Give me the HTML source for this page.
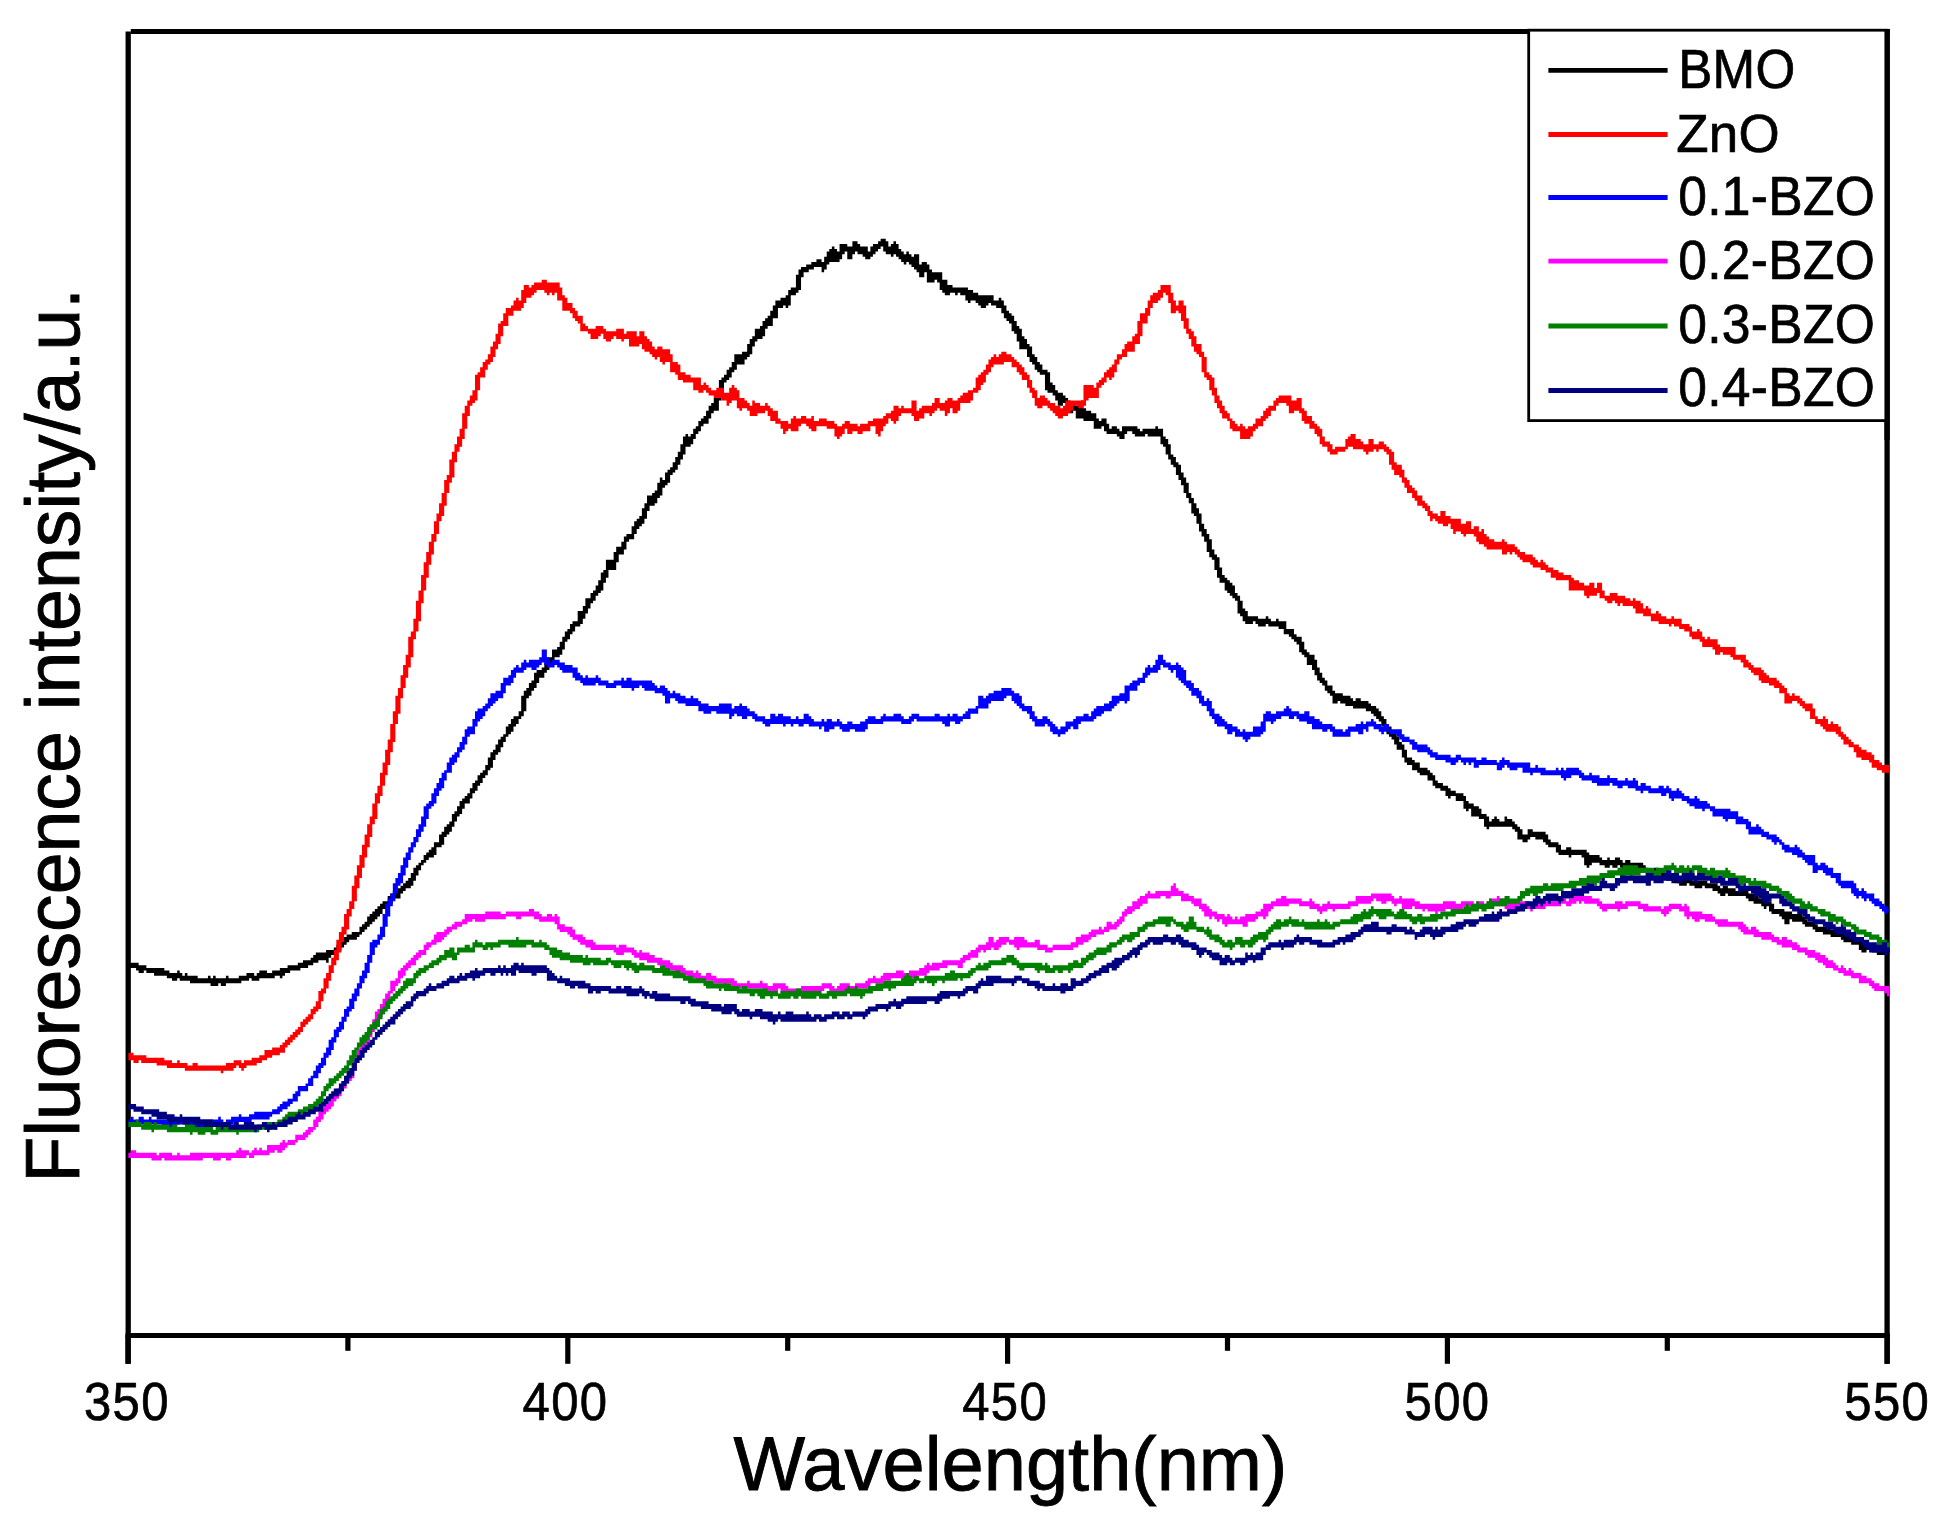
<!DOCTYPE html>
<html><head><meta charset="utf-8"><title>Fluorescence spectra</title>
<style>
html,body{margin:0;padding:0;background:#fff;}
body{width:1941px;height:1527px;overflow:hidden;}
svg{display:block;}
text{font-family:"Liberation Sans",sans-serif;fill:#000;}
</style></head>
<body>
<svg width="1941" height="1527" viewBox="0 0 1941 1527">
<rect x="0" y="0" width="1941" height="1527" fill="#fff"/>
<g id="frame">
<line x1="128.2" y1="31.4" x2="128.2" y2="1363.8" stroke="#000" stroke-width="5.3"/>
<line x1="130.8" y1="31.5" x2="1889.8" y2="31.5" stroke="#000" stroke-width="4.8"/>
<line x1="1887.1" y1="28.9" x2="1887.1" y2="1363.8" stroke="#000" stroke-width="5.3"/>
<line x1="125.6" y1="1335.4" x2="1889.8" y2="1335.4" stroke="#000" stroke-width="5"/>
<line x1="128.0" y1="1335" x2="128.0" y2="1363.8" stroke="#000" stroke-width="5.2"/><line x1="347.9" y1="1335" x2="347.9" y2="1350.8" stroke="#000" stroke-width="5.2"/><line x1="567.8" y1="1335" x2="567.8" y2="1363.8" stroke="#000" stroke-width="5.2"/><line x1="787.7" y1="1335" x2="787.7" y2="1350.8" stroke="#000" stroke-width="5.2"/><line x1="1007.6" y1="1335" x2="1007.6" y2="1363.8" stroke="#000" stroke-width="5.2"/><line x1="1227.5" y1="1335" x2="1227.5" y2="1350.8" stroke="#000" stroke-width="5.2"/><line x1="1447.4" y1="1335" x2="1447.4" y2="1363.8" stroke="#000" stroke-width="5.2"/><line x1="1667.3" y1="1335" x2="1667.3" y2="1350.8" stroke="#000" stroke-width="5.2"/><line x1="1887.2" y1="1335" x2="1887.2" y2="1363.8" stroke="#000" stroke-width="5.2"/>
</g>
<g id="curves">
<g transform="scale(2.56746)"><path d="M50,375h1v2h-1zM51,375h1v2h-1zM52,375h1v2h-1zM53,375h1v3h-1zM54,376h1v3h-1zM55,376h1v3h-1zM56,376h1v2h-1zM57,377h1v2h-1zM58,377h1v2h-1zM59,377h1v2h-1zM60,377h1v3h-1zM61,377h1v3h-1zM62,377h1v3h-1zM63,377h1v3h-1zM64,378h1v2h-1zM65,378h1v3h-1zM66,379h1v2h-1zM67,379h1v3h-1zM68,379h1v3h-1zM69,378h1v3h-1zM70,379h1v3h-1zM71,380h1v2h-1zM72,379h1v3h-1zM73,380h1v2h-1zM74,380h1v3h-1zM75,380h1v3h-1zM76,380h1v3h-1zM77,381h1v2h-1zM78,381h1v2h-1zM79,381h1v2h-1zM80,381h1v2h-1zM81,380h1v3h-1zM82,381h1v3h-1zM83,380h1v4h-1zM84,381h1v3h-1zM85,381h1v2h-1zM86,381h1v3h-1zM87,381h1v3h-1zM88,380h1v3h-1zM89,381h1v2h-1zM90,381h1v2h-1zM91,381h1v2h-1zM92,381h1v2h-1zM93,380h1v3h-1zM94,380h1v2h-1zM95,380h1v2h-1zM96,379h1v3h-1zM97,379h1v2h-1zM98,379h1v3h-1zM99,380h1v2h-1zM100,379h1v3h-1zM101,378h1v3h-1zM102,378h1v3h-1zM103,378h1v3h-1zM104,379h1v2h-1zM105,379h1v2h-1zM106,378h1v3h-1zM107,378h1v2h-1zM108,378h1v2h-1zM109,377h1v4h-1zM110,377h1v3h-1zM111,377h1v2h-1zM112,376h1v3h-1zM113,376h1v2h-1zM114,376h1v2h-1zM115,376h1v2h-1zM116,375h1v3h-1zM117,375h1v2h-1zM118,374h1v3h-1zM119,374h1v3h-1zM120,374h1v2h-1zM121,373h1v3h-1zM122,372h1v3h-1zM123,371h1v4h-1zM124,371h1v3h-1zM125,371h1v3h-1zM126,371h1v3h-1zM127,370h1v5h-1zM128,370h1v3h-1zM129,370h1v2h-1zM130,369h1v3h-1zM131,368h1v3h-1zM132,367h1v3h-1zM133,365h1v4h-1zM134,365h1v3h-1zM135,364h1v3h-1zM136,364h1v2h-1zM137,363h1v3h-1zM138,363h1v3h-1zM139,363h1v2h-1zM140,361h1v3h-1zM141,360h1v3h-1zM142,359h1v3h-1zM143,357h1v4h-1zM144,356h1v4h-1zM145,355h1v4h-1zM146,354h1v4h-1zM147,353h1v4h-1zM148,352h1v4h-1zM149,351h1v3h-1zM150,351h1v3h-1zM151,349h1v4h-1zM152,348h1v4h-1zM153,347h1v3h-1zM154,347h1v3h-1zM155,346h1v4h-1zM156,345h1v3h-1zM157,344h1v3h-1zM158,343h1v3h-1zM159,342h1v4h-1zM160,340h1v5h-1zM161,338h1v5h-1zM162,337h1v4h-1zM163,336h1v3h-1zM164,335h1v2h-1zM165,333h1v3h-1zM166,332h1v3h-1zM167,331h1v3h-1zM168,330h1v4h-1zM169,328h1v5h-1zM170,328h1v2h-1zM171,325h1v5h-1zM172,324h1v5h-1zM173,322h1v4h-1zM174,321h1v4h-1zM175,320h1v4h-1zM176,317h1v5h-1zM177,316h1v4h-1zM178,314h1v4h-1zM179,312h1v5h-1zM180,311h1v4h-1zM181,310h1v3h-1zM182,309h1v4h-1zM183,307h1v4h-1zM184,305h1v4h-1zM185,304h1v4h-1zM186,302h1v4h-1zM187,301h1v4h-1zM188,300h1v3h-1zM189,298h1v4h-1zM190,295h1v5h-1zM191,293h1v6h-1zM192,292h1v4h-1zM193,290h1v4h-1zM194,288h1v5h-1zM195,287h1v4h-1zM196,286h1v3h-1zM197,283h1v4h-1zM198,282h1v4h-1zM199,280h1v5h-1zM200,279h1v4h-1zM201,279h1v3h-1zM202,277h1v3h-1zM203,271h1v8h-1zM204,269h1v8h-1zM205,268h1v4h-1zM206,266h1v5h-1zM207,265h1v4h-1zM208,262h1v6h-1zM209,261h1v5h-1zM210,261h1v3h-1zM211,260h1v4h-1zM212,258h1v4h-1zM213,256h1v5h-1zM214,256h1v3h-1zM215,253h1v5h-1zM216,253h1v3h-1zM217,252h1v4h-1zM218,250h1v5h-1zM219,248h1v5h-1zM220,246h1v4h-1zM221,245h1v4h-1zM222,243h1v4h-1zM223,242h1v4h-1zM224,242h1v2h-1zM225,238h1v6h-1zM226,238h1v5h-1zM227,236h1v5h-1zM228,233h1v6h-1zM229,233h1v4h-1zM230,231h1v4h-1zM231,230h1v4h-1zM232,228h1v4h-1zM233,226h1v5h-1zM234,223h1v7h-1zM235,222h1v5h-1zM236,218h1v7h-1zM237,218h1v4h-1zM238,218h1v4h-1zM239,215h1v7h-1zM240,213h1v6h-1zM241,213h1v3h-1zM242,211h1v5h-1zM243,209h1v5h-1zM244,208h1v3h-1zM245,208h1v2h-1zM246,205h1v5h-1zM247,203h1v5h-1zM248,202h1v4h-1zM249,201h1v4h-1zM250,198h1v6h-1zM251,196h1v6h-1zM252,193h1v6h-1zM253,193h1v4h-1zM254,192h1v5h-1zM255,191h1v5h-1zM256,188h1v6h-1zM257,186h1v7h-1zM258,187h1v3h-1zM259,184h1v5h-1zM260,183h1v5h-1zM261,182h1v3h-1zM262,180h1v4h-1zM263,178h1v5h-1zM264,176h1v5h-1zM265,173h1v6h-1zM266,170h1v7h-1zM267,169h1v5h-1zM268,170h1v4h-1zM269,169h1v4h-1zM270,167h1v4h-1zM271,166h1v3h-1zM272,164h1v4h-1zM273,163h1v3h-1zM274,162h1v3h-1zM275,160h1v5h-1zM276,158h1v5h-1zM277,157h1v4h-1zM278,155h1v5h-1zM279,152h1v8h-1zM280,148h1v8h-1zM281,147h1v5h-1zM282,146h1v3h-1zM283,144h1v4h-1zM284,143h1v4h-1zM285,141h1v4h-1zM286,138h1v6h-1zM287,138h1v4h-1zM288,138h1v4h-1zM289,137h1v5h-1zM290,137h1v3h-1zM291,134h1v5h-1zM292,132h1v6h-1zM293,131h1v4h-1zM294,128h1v5h-1zM295,128h1v4h-1zM296,127h1v5h-1zM297,125h1v6h-1zM298,124h1v4h-1zM299,123h1v4h-1zM300,121h1v6h-1zM301,119h1v5h-1zM302,117h1v7h-1zM303,117h1v3h-1zM304,116h1v4h-1zM305,116h1v3h-1zM306,115h1v5h-1zM307,113h1v6h-1zM308,112h1v3h-1zM309,112h1v3h-1zM310,107h1v7h-1zM311,105h1v8h-1zM312,104h1v4h-1zM313,104h1v2h-1zM314,103h1v3h-1zM315,103h1v2h-1zM316,102h1v3h-1zM317,102h1v2h-1zM318,101h1v3h-1zM319,101h1v3h-1zM320,102h1v4h-1zM321,100h1v5h-1zM322,98h1v5h-1zM323,97h1v5h-1zM324,96h1v6h-1zM325,97h1v5h-1zM326,98h1v4h-1zM327,95h1v6h-1zM328,95h1v4h-1zM329,95h1v3h-1zM330,96h1v5h-1zM331,96h1v5h-1zM332,94h1v5h-1zM333,94h1v4h-1zM334,95h1v4h-1zM335,96h1v3h-1zM336,96h1v4h-1zM337,96h1v5h-1zM338,98h1v3h-1zM339,96h1v4h-1zM340,95h1v4h-1zM341,95h1v3h-1zM342,94h1v3h-1zM343,93h1v3h-1zM344,93h1v5h-1zM345,94h1v5h-1zM346,96h1v3h-1zM347,95h1v5h-1zM348,94h1v5h-1zM349,95h1v5h-1zM350,97h1v4h-1zM351,98h1v4h-1zM352,99h1v4h-1zM353,98h1v4h-1zM354,99h1v4h-1zM355,100h1v4h-1zM356,99h1v6h-1zM357,99h1v7h-1zM358,103h1v5h-1zM359,102h1v6h-1zM360,102h1v4h-1zM361,103h1v7h-1zM362,105h1v5h-1zM363,106h1v4h-1zM364,106h1v3h-1zM365,106h1v4h-1zM366,106h1v7h-1zM367,109h1v5h-1zM368,109h1v6h-1zM369,111h1v4h-1zM370,111h1v3h-1zM371,112h1v2h-1zM372,112h1v3h-1zM373,112h1v2h-1zM374,112h1v3h-1zM375,112h1v3h-1zM376,112h1v5h-1zM377,113h1v5h-1zM378,113h1v4h-1zM379,114h1v3h-1zM380,114h1v4h-1zM381,115h1v4h-1zM382,115h1v5h-1zM383,115h1v5h-1zM384,115h1v4h-1zM385,115h1v3h-1zM386,115h1v4h-1zM387,117h1v2h-1zM388,117h1v3h-1zM389,116h1v4h-1zM390,117h1v5h-1zM391,119h1v5h-1zM392,121h1v4h-1zM393,122h1v4h-1zM394,123h1v6h-1zM395,125h1v5h-1zM396,127h1v6h-1zM397,128h1v8h-1zM398,131h1v5h-1zM399,132h1v4h-1zM400,134h1v5h-1zM401,135h1v6h-1zM402,138h1v4h-1zM403,139h1v5h-1zM404,141h1v4h-1zM405,142h1v4h-1zM406,144h1v2h-1zM407,144h1v8h-1zM408,145h1v8h-1zM409,149h1v4h-1zM410,150h1v4h-1zM411,152h1v4h-1zM412,153h1v5h-1zM413,153h1v5h-1zM414,154h1v3h-1zM415,155h1v4h-1zM416,156h1v5h-1zM417,158h1v3h-1zM418,157h1v3h-1zM419,158h1v5h-1zM420,157h1v6h-1zM421,156h1v7h-1zM422,159h1v5h-1zM423,160h1v4h-1zM424,160h1v4h-1zM425,161h1v3h-1zM426,161h1v6h-1zM427,163h1v4h-1zM428,164h1v3h-1zM429,163h1v3h-1zM430,163h1v5h-1zM431,165h1v4h-1zM432,167h1v2h-1zM433,166h1v3h-1zM434,166h1v3h-1zM435,167h1v3h-1zM436,168h1v3h-1zM437,166h1v5h-1zM438,166h1v3h-1zM439,166h1v2h-1zM440,166h1v2h-1zM441,166h1v3h-1zM442,166h1v4h-1zM443,167h1v3h-1zM444,168h1v2h-1zM445,167h1v3h-1zM446,167h1v2h-1zM447,167h1v3h-1zM448,167h1v3h-1zM449,167h1v3h-1zM450,166h1v4h-1zM451,167h1v3h-1zM452,167h1v6h-1zM453,170h1v4h-1zM454,171h1v6h-1zM455,173h1v6h-1zM456,177h1v4h-1zM457,178h1v4h-1zM458,180h1v5h-1zM459,181h1v6h-1zM460,184h1v5h-1zM461,186h1v6h-1zM462,188h1v6h-1zM463,192h1v4h-1zM464,194h1v6h-1zM465,196h1v5h-1zM466,198h1v6h-1zM467,200h1v7h-1zM468,204h1v5h-1zM469,206h1v5h-1zM470,208h1v7h-1zM471,210h1v7h-1zM472,214h1v4h-1zM473,216h1v6h-1zM474,217h1v8h-1zM475,221h1v6h-1zM476,224h1v3h-1zM477,225h1v5h-1zM478,226h1v5h-1zM479,227h1v5h-1zM480,228h1v5h-1zM481,231h1v3h-1zM482,232h1v7h-1zM483,234h1v6h-1zM484,237h1v5h-1zM485,238h1v5h-1zM486,240h1v3h-1zM487,240h1v3h-1zM488,240h1v2h-1zM489,240h1v3h-1zM490,241h1v3h-1zM491,241h1v3h-1zM492,241h1v3h-1zM493,240h1v3h-1zM494,241h1v3h-1zM495,242h1v2h-1zM496,242h1v2h-1zM497,241h1v3h-1zM498,242h1v3h-1zM499,242h1v3h-1zM500,242h1v5h-1zM501,245h1v2h-1zM502,245h1v3h-1zM503,245h1v4h-1zM504,247h1v3h-1zM505,248h1v3h-1zM506,248h1v6h-1zM507,250h1v5h-1zM508,253h1v3h-1zM509,254h1v5h-1zM510,255h1v4h-1zM511,255h1v6h-1zM512,257h1v6h-1zM513,260h1v5h-1zM514,262h1v4h-1zM515,264h1v3h-1zM516,265h1v4h-1zM517,267h1v3h-1zM518,267h1v4h-1zM519,269h1v5h-1zM520,270h1v4h-1zM521,270h1v3h-1zM522,270h1v4h-1zM523,271h1v3h-1zM524,271h1v4h-1zM525,271h1v4h-1zM526,272h1v3h-1zM527,273h1v3h-1zM528,272h1v4h-1zM529,272h1v4h-1zM530,273h1v3h-1zM531,273h1v3h-1zM532,273h1v4h-1zM533,274h1v3h-1zM534,275h1v3h-1zM535,275h1v4h-1zM536,276h1v4h-1zM537,277h1v4h-1zM538,279h1v4h-1zM539,280h1v4h-1zM540,282h1v4h-1zM541,283h1v4h-1zM542,285h1v3h-1zM543,285h1v5h-1zM544,287h1v5h-1zM545,289h1v3h-1zM546,290h1v5h-1zM547,292h1v5h-1zM548,295h1v3h-1zM549,295h1v3h-1zM550,296h1v4h-1zM551,297h1v3h-1zM552,297h1v4h-1zM553,299h1v3h-1zM554,299h1v3h-1zM555,299h1v3h-1zM556,300h1v4h-1zM557,301h1v3h-1zM558,302h1v4h-1zM559,304h1v3h-1zM560,305h1v2h-1zM561,305h1v3h-1zM562,306h1v2h-1zM563,306h1v4h-1zM564,307h1v4h-1zM565,308h1v2h-1zM566,308h1v2h-1zM567,309h1v3h-1zM568,309h1v3h-1zM569,309h1v3h-1zM570,310h1v5h-1zM571,312h1v4h-1zM572,313h1v2h-1zM573,313h1v5h-1zM574,314h1v4h-1zM575,314h1v4h-1zM576,315h1v4h-1zM577,317h1v2h-1zM578,317h1v5h-1zM579,318h1v5h-1zM580,320h1v2h-1zM581,319h1v3h-1zM582,318h1v4h-1zM583,319h1v3h-1zM584,320h1v2h-1zM585,320h1v2h-1zM586,318h1v4h-1zM587,319h1v3h-1zM588,319h1v3h-1zM589,320h1v3h-1zM590,321h1v3h-1zM591,322h1v5h-1zM592,323h1v4h-1zM593,325h1v3h-1zM594,325h1v3h-1zM595,323h1v4h-1zM596,323h1v3h-1zM597,324h1v2h-1zM598,324h1v3h-1zM599,324h1v3h-1zM600,324h1v3h-1zM601,324h1v4h-1zM602,325h1v4h-1zM603,327h1v3h-1zM604,328h1v2h-1zM605,328h1v2h-1zM606,328h1v4h-1zM607,329h1v4h-1zM608,331h1v2h-1zM609,331h1v2h-1zM610,330h1v3h-1zM611,330h1v4h-1zM612,331h1v2h-1zM613,331h1v2h-1zM614,331h1v2h-1zM615,331h1v2h-1zM616,331h1v3h-1zM617,331h1v6h-1zM618,332h1v6h-1zM619,333h1v4h-1zM620,333h1v3h-1zM621,333h1v3h-1zM622,333h1v3h-1zM623,334h1v3h-1zM624,335h1v2h-1zM625,335h1v3h-1zM626,334h1v4h-1zM627,335h1v2h-1zM628,335h1v3h-1zM629,334h1v4h-1zM630,334h1v3h-1zM631,335h1v3h-1zM632,336h1v3h-1zM633,335h1v4h-1zM634,335h1v4h-1zM635,336h1v3h-1zM636,336h1v3h-1zM637,336h1v3h-1zM638,336h1v3h-1zM639,336h1v3h-1zM640,337h1v2h-1zM641,338h1v2h-1zM642,339h1v3h-1zM643,339h1v3h-1zM644,338h1v3h-1zM645,338h1v3h-1zM646,339h1v2h-1zM647,339h1v3h-1zM648,339h1v3h-1zM649,339h1v4h-1zM650,340h1v3h-1zM651,341h1v2h-1zM652,341h1v3h-1zM653,342h1v2h-1zM654,342h1v3h-1zM655,342h1v3h-1zM656,342h1v3h-1zM657,342h1v2h-1zM658,342h1v3h-1zM659,343h1v2h-1zM660,342h1v4h-1zM661,343h1v3h-1zM662,343h1v3h-1zM663,343h1v2h-1zM664,343h1v3h-1zM665,344h1v2h-1zM666,344h1v2h-1zM667,344h1v3h-1zM668,344h1v3h-1zM669,345h1v3h-1zM670,346h1v3h-1zM671,345h1v4h-1zM672,345h1v3h-1zM673,346h1v3h-1zM674,346h1v3h-1zM675,346h1v3h-1zM676,347h1v2h-1zM677,347h1v2h-1zM678,347h1v2h-1zM679,347h1v2h-1zM680,347h1v3h-1zM681,348h1v3h-1zM682,348h1v3h-1zM683,348h1v4h-1zM684,349h1v3h-1zM685,350h1v2h-1zM686,350h1v3h-1zM687,351h1v3h-1zM688,351h1v2h-1zM689,351h1v4h-1zM690,352h1v4h-1zM691,354h1v2h-1zM692,354h1v2h-1zM693,354h1v3h-1zM694,354h1v4h-1zM695,355h1v5h-1zM696,355h1v5h-1zM697,355h1v3h-1zM698,356h1v3h-1zM699,356h1v3h-1zM700,356h1v3h-1zM701,356h1v3h-1zM702,357h1v3h-1zM703,358h1v3h-1zM704,359h1v2h-1zM705,359h1v2h-1zM706,359h1v3h-1zM707,360h1v3h-1zM708,361h1v2h-1zM709,361h1v2h-1zM710,361h1v3h-1zM711,361h1v3h-1zM712,361h1v3h-1zM713,362h1v3h-1zM714,362h1v3h-1zM715,363h1v2h-1zM716,363h1v2h-1zM717,363h1v3h-1zM718,363h1v4h-1zM719,364h1v3h-1zM720,364h1v3h-1zM721,365h1v3h-1zM722,365h1v3h-1zM723,366h1v2h-1zM724,366h1v4h-1zM725,367h1v4h-1zM726,368h1v3h-1zM727,368h1v2h-1zM728,368h1v2h-1zM729,368h1v3h-1zM730,368h1v3h-1zM731,368h1v4h-1zM732,369h1v3h-1zM733,370h1v2h-1zM734,369h1v3h-1zM735,370h1v1h-1z" fill="#000000"/>
<path d="M50,410h1v3h-1zM51,410h1v3h-1zM52,411h1v3h-1zM53,411h1v3h-1zM54,411h1v2h-1zM55,411h1v3h-1zM56,411h1v3h-1zM57,412h1v2h-1zM58,412h1v2h-1zM59,412h1v2h-1zM60,412h1v2h-1zM61,412h1v3h-1zM62,412h1v3h-1zM63,412h1v3h-1zM64,413h1v2h-1zM65,413h1v3h-1zM66,413h1v3h-1zM67,414h1v2h-1zM68,414h1v2h-1zM69,413h1v3h-1zM70,414h1v2h-1zM71,414h1v2h-1zM72,414h1v3h-1zM73,415h1v2h-1zM74,415h1v2h-1zM75,414h1v3h-1zM76,414h1v3h-1zM77,415h1v2h-1zM78,415h1v2h-1zM79,415h1v2h-1zM80,415h1v2h-1zM81,415h1v2h-1zM82,415h1v2h-1zM83,415h1v2h-1zM84,415h1v2h-1zM85,415h1v2h-1zM86,415h1v3h-1zM87,415h1v2h-1zM88,414h1v3h-1zM89,414h1v3h-1zM90,414h1v3h-1zM91,413h1v3h-1zM92,413h1v2h-1zM93,413h1v3h-1zM94,414h1v3h-1zM95,413h1v3h-1zM96,413h1v2h-1zM97,413h1v2h-1zM98,412h1v3h-1zM99,412h1v3h-1zM100,412h1v2h-1zM101,411h1v3h-1zM102,411h1v2h-1zM103,409h1v4h-1zM104,409h1v3h-1zM105,409h1v3h-1zM106,408h1v3h-1zM107,408h1v3h-1zM108,408h1v3h-1zM109,407h1v3h-1zM110,406h1v4h-1zM111,405h1v3h-1zM112,404h1v3h-1zM113,403h1v3h-1zM114,402h1v3h-1zM115,401h1v3h-1zM116,400h1v3h-1zM117,398h1v4h-1zM118,397h1v3h-1zM119,396h1v3h-1zM120,395h1v3h-1zM121,393h1v4h-1zM122,392h1v3h-1zM123,390h1v4h-1zM124,386h1v7h-1zM125,385h1v5h-1zM126,381h1v6h-1zM127,379h1v6h-1zM128,376h1v6h-1zM129,373h1v6h-1zM130,370h1v6h-1zM131,366h1v8h-1zM132,363h1v8h-1zM133,361h1v6h-1zM134,356h1v8h-1zM135,354h1v8h-1zM136,351h1v6h-1zM137,345h1v9h-1zM138,341h1v10h-1zM139,337h1v9h-1zM140,333h1v9h-1zM141,329h1v9h-1zM142,325h1v9h-1zM143,321h1v9h-1zM144,318h1v8h-1zM145,313h1v8h-1zM146,309h1v10h-1zM147,306h1v7h-1zM148,301h1v9h-1zM149,297h1v9h-1zM150,292h1v10h-1zM151,288h1v10h-1zM152,282h1v11h-1zM153,277h1v12h-1zM154,271h1v11h-1zM155,268h1v10h-1zM156,263h1v9h-1zM157,259h1v9h-1zM158,255h1v9h-1zM159,248h1v12h-1zM160,246h1v10h-1zM161,241h1v8h-1zM162,234h1v12h-1zM163,230h1v12h-1zM164,224h1v11h-1zM165,219h1v11h-1zM166,215h1v10h-1zM167,211h1v9h-1zM168,208h1v8h-1zM169,203h1v8h-1zM170,200h1v8h-1zM171,196h1v7h-1zM172,192h1v9h-1zM173,187h1v10h-1zM174,185h1v7h-1zM175,179h1v9h-1zM176,176h1v10h-1zM177,173h1v7h-1zM178,170h1v6h-1zM179,167h1v7h-1zM180,161h1v10h-1zM181,158h1v9h-1zM182,156h1v6h-1zM183,154h1v4h-1zM184,152h1v5h-1zM185,146h1v10h-1zM186,145h1v7h-1zM187,143h1v4h-1zM188,141h1v6h-1zM189,140h1v4h-1zM190,138h1v4h-1zM191,135h1v6h-1zM192,133h1v6h-1zM193,130h1v6h-1zM194,126h1v8h-1zM195,125h1v6h-1zM196,122h1v5h-1zM197,120h1v7h-1zM198,120h1v3h-1zM199,119h1v4h-1zM200,117h1v4h-1zM201,116h1v5h-1zM202,117h1v4h-1zM203,113h1v7h-1zM204,111h1v7h-1zM205,111h1v5h-1zM206,112h1v4h-1zM207,111h1v4h-1zM208,110h1v4h-1zM209,110h1v3h-1zM210,110h1v3h-1zM211,109h1v4h-1zM212,109h1v5h-1zM213,110h1v5h-1zM214,110h1v4h-1zM215,110h1v5h-1zM216,110h1v4h-1zM217,110h1v7h-1zM218,112h1v5h-1zM219,115h1v6h-1zM220,116h1v5h-1zM221,118h1v3h-1zM222,118h1v4h-1zM223,120h1v4h-1zM224,121h1v4h-1zM225,123h1v3h-1zM226,123h1v6h-1zM227,126h1v3h-1zM228,127h1v2h-1zM229,128h1v2h-1zM230,128h1v4h-1zM231,128h1v4h-1zM232,127h1v5h-1zM233,127h1v4h-1zM234,127h1v3h-1zM235,128h1v4h-1zM236,129h1v4h-1zM237,129h1v4h-1zM238,129h1v3h-1zM239,129h1v2h-1zM240,128h1v4h-1zM241,128h1v4h-1zM242,128h1v5h-1zM243,130h1v2h-1zM244,129h1v3h-1zM245,129h1v6h-1zM246,129h1v6h-1zM247,129h1v6h-1zM248,131h1v4h-1zM249,129h1v5h-1zM250,129h1v7h-1zM251,131h1v6h-1zM252,132h1v5h-1zM253,133h1v5h-1zM254,135h1v4h-1zM255,136h1v4h-1zM256,135h1v4h-1zM257,135h1v6h-1zM258,136h1v6h-1zM259,136h1v5h-1zM260,136h1v5h-1zM261,138h1v7h-1zM262,141h1v4h-1zM263,141h1v5h-1zM264,142h1v6h-1zM265,145h1v3h-1zM266,145h1v4h-1zM267,146h1v3h-1zM268,146h1v3h-1zM269,147h1v2h-1zM270,147h1v5h-1zM271,147h1v5h-1zM272,147h1v6h-1zM273,150h1v3h-1zM274,149h1v3h-1zM275,150h1v3h-1zM276,151h1v3h-1zM277,152h1v2h-1zM278,152h1v3h-1zM279,151h1v4h-1zM280,151h1v4h-1zM281,151h1v5h-1zM282,153h1v3h-1zM283,153h1v5h-1zM284,151h1v6h-1zM285,150h1v6h-1zM286,151h1v5h-1zM287,152h1v7h-1zM288,155h1v5h-1zM289,155h1v4h-1zM290,156h1v3h-1zM291,157h1v3h-1zM292,158h1v4h-1zM293,156h1v6h-1zM294,157h1v5h-1zM295,157h1v4h-1zM296,158h1v3h-1zM297,158h1v3h-1zM298,157h1v3h-1zM299,158h1v4h-1zM300,159h1v5h-1zM301,160h1v4h-1zM302,160h1v5h-1zM303,163h1v2h-1zM304,164h1v3h-1zM305,164h1v5h-1zM306,164h1v4h-1zM307,165h1v2h-1zM308,163h1v5h-1zM309,162h1v6h-1zM310,163h1v5h-1zM311,163h1v3h-1zM312,162h1v3h-1zM313,162h1v3h-1zM314,163h1v3h-1zM315,163h1v4h-1zM316,162h1v6h-1zM317,164h1v4h-1zM318,164h1v2h-1zM319,163h1v3h-1zM320,163h1v3h-1zM321,163h1v3h-1zM322,164h1v3h-1zM323,164h1v3h-1zM324,164h1v3h-1zM325,165h1v5h-1zM326,166h1v5h-1zM327,166h1v4h-1zM328,165h1v4h-1zM329,164h1v3h-1zM330,164h1v5h-1zM331,165h1v4h-1zM332,165h1v3h-1zM333,165h1v3h-1zM334,166h1v3h-1zM335,165h1v4h-1zM336,165h1v3h-1zM337,165h1v3h-1zM338,164h1v4h-1zM339,164h1v2h-1zM340,163h1v3h-1zM341,163h1v6h-1zM342,163h1v7h-1zM343,163h1v5h-1zM344,162h1v4h-1zM345,161h1v4h-1zM346,161h1v2h-1zM347,160h1v4h-1zM348,158h1v7h-1zM349,158h1v6h-1zM350,159h1v3h-1zM351,158h1v3h-1zM352,159h1v2h-1zM353,159h1v2h-1zM354,159h1v2h-1zM355,156h1v6h-1zM356,156h1v8h-1zM357,160h1v4h-1zM358,159h1v4h-1zM359,158h1v5h-1zM360,158h1v3h-1zM361,158h1v3h-1zM362,158h1v4h-1zM363,157h1v4h-1zM364,155h1v5h-1zM365,155h1v4h-1zM366,157h1v3h-1zM367,157h1v3h-1zM368,156h1v6h-1zM369,155h1v6h-1zM370,155h1v4h-1zM371,156h1v5h-1zM372,156h1v5h-1zM373,155h1v5h-1zM374,154h1v3h-1zM375,153h1v4h-1zM376,153h1v4h-1zM377,152h1v5h-1zM378,152h1v4h-1zM379,151h1v2h-1zM380,147h1v6h-1zM381,146h1v6h-1zM382,145h1v5h-1zM383,144h1v5h-1zM384,142h1v4h-1zM385,140h1v5h-1zM386,139h1v4h-1zM387,138h1v4h-1zM388,139h1v3h-1zM389,138h1v4h-1zM390,137h1v5h-1zM391,137h1v4h-1zM392,138h1v3h-1zM393,138h1v3h-1zM394,139h1v4h-1zM395,140h1v3h-1zM396,141h1v4h-1zM397,142h1v4h-1zM398,143h1v5h-1zM399,145h1v3h-1zM400,146h1v5h-1zM401,148h1v5h-1zM402,151h1v4h-1zM403,152h1v6h-1zM404,155h1v4h-1zM405,154h1v5h-1zM406,154h1v4h-1zM407,155h1v3h-1zM408,156h1v3h-1zM409,157h1v3h-1zM410,157h1v4h-1zM411,158h1v4h-1zM412,158h1v5h-1zM413,159h1v4h-1zM414,158h1v4h-1zM415,156h1v6h-1zM416,156h1v5h-1zM417,156h1v4h-1zM418,156h1v2h-1zM419,156h1v2h-1zM420,156h1v3h-1zM421,156h1v3h-1zM422,150h1v8h-1zM423,150h1v6h-1zM424,150h1v5h-1zM425,150h1v5h-1zM426,151h1v4h-1zM427,149h1v6h-1zM428,148h1v3h-1zM429,147h1v3h-1zM430,145h1v4h-1zM431,144h1v3h-1zM432,143h1v5h-1zM433,142h1v5h-1zM434,140h1v5h-1zM435,138h1v4h-1zM436,138h1v2h-1zM437,136h1v3h-1zM438,134h1v5h-1zM439,133h1v4h-1zM440,133h1v4h-1zM441,131h1v6h-1zM442,130h1v4h-1zM443,125h1v9h-1zM444,122h1v9h-1zM445,122h1v4h-1zM446,120h1v6h-1zM447,117h1v6h-1zM448,115h1v5h-1zM449,114h1v4h-1zM450,114h1v4h-1zM451,113h1v4h-1zM452,111h1v5h-1zM453,111h1v3h-1zM454,111h1v4h-1zM455,111h1v7h-1zM456,114h1v8h-1zM457,117h1v5h-1zM458,119h1v2h-1zM459,117h1v5h-1zM460,117h1v8h-1zM461,119h1v9h-1zM462,124h1v6h-1zM463,128h1v4h-1zM464,129h1v6h-1zM465,131h1v6h-1zM466,134h1v4h-1zM467,134h1v5h-1zM468,137h1v8h-1zM469,139h1v8h-1zM470,145h1v3h-1zM471,146h1v6h-1zM472,147h1v7h-1zM473,151h1v6h-1zM474,154h1v5h-1zM475,156h1v5h-1zM476,158h1v5h-1zM477,160h1v3h-1zM478,161h1v3h-1zM479,163h1v4h-1zM480,164h1v4h-1zM481,165h1v3h-1zM482,166h1v2h-1zM483,165h1v6h-1zM484,166h1v5h-1zM485,167h1v4h-1zM486,166h1v5h-1zM487,166h1v4h-1zM488,165h1v3h-1zM489,163h1v4h-1zM490,163h1v3h-1zM491,162h1v4h-1zM492,160h1v4h-1zM493,159h1v4h-1zM494,158h1v4h-1zM495,158h1v2h-1zM496,156h1v4h-1zM497,155h1v3h-1zM498,154h1v3h-1zM499,154h1v3h-1zM500,154h1v3h-1zM501,154h1v4h-1zM502,154h1v7h-1zM503,156h1v5h-1zM504,156h1v4h-1zM505,155h1v5h-1zM506,155h1v6h-1zM507,159h1v5h-1zM508,160h1v5h-1zM509,162h1v3h-1zM510,162h1v5h-1zM511,164h1v3h-1zM512,165h1v4h-1zM513,166h1v4h-1zM514,167h1v6h-1zM515,170h1v4h-1zM516,172h1v2h-1zM517,172h1v4h-1zM518,173h1v4h-1zM519,175h1v2h-1zM520,174h1v3h-1zM521,174h1v2h-1zM522,174h1v2h-1zM523,174h1v2h-1zM524,171h1v4h-1zM525,170h1v4h-1zM526,169h1v5h-1zM527,169h1v6h-1zM528,171h1v4h-1zM529,171h1v4h-1zM530,172h1v3h-1zM531,173h1v3h-1zM532,173h1v4h-1zM533,171h1v5h-1zM534,171h1v5h-1zM535,173h1v2h-1zM536,173h1v3h-1zM537,172h1v3h-1zM538,172h1v3h-1zM539,173h1v3h-1zM540,174h1v3h-1zM541,175h1v6h-1zM542,176h1v7h-1zM543,180h1v5h-1zM544,181h1v4h-1zM545,181h1v5h-1zM546,183h1v5h-1zM547,186h1v4h-1zM548,187h1v5h-1zM549,189h1v3h-1zM550,190h1v4h-1zM551,191h1v4h-1zM552,193h1v4h-1zM553,193h1v4h-1zM554,195h1v3h-1zM555,196h1v3h-1zM556,197h1v4h-1zM557,199h1v4h-1zM558,200h1v2h-1zM559,200h1v3h-1zM560,201h1v3h-1zM561,199h1v5h-1zM562,199h1v6h-1zM563,201h1v4h-1zM564,201h1v3h-1zM565,202h1v4h-1zM566,202h1v6h-1zM567,202h1v5h-1zM568,202h1v5h-1zM569,204h1v4h-1zM570,204h1v5h-1zM571,203h1v5h-1zM572,203h1v5h-1zM573,206h1v2h-1zM574,205h1v4h-1zM575,205h1v6h-1zM576,207h1v5h-1zM577,206h1v6h-1zM578,208h1v5h-1zM579,209h1v5h-1zM580,210h1v4h-1zM581,210h1v4h-1zM582,211h1v3h-1zM583,211h1v3h-1zM584,211h1v3h-1zM585,210h1v6h-1zM586,211h1v5h-1zM587,212h1v3h-1zM588,212h1v4h-1zM589,212h1v3h-1zM590,213h1v3h-1zM591,214h1v3h-1zM592,215h1v3h-1zM593,215h1v4h-1zM594,216h1v3h-1zM595,216h1v3h-1zM596,216h1v4h-1zM597,217h1v4h-1zM598,218h1v3h-1zM599,219h1v2h-1zM600,218h1v4h-1zM601,219h1v3h-1zM602,220h1v3h-1zM603,221h1v2h-1zM604,221h1v4h-1zM605,222h1v3h-1zM606,222h1v4h-1zM607,223h1v3h-1zM608,223h1v3h-1zM609,224h1v2h-1zM610,224h1v2h-1zM611,224h1v6h-1zM612,225h1v5h-1zM613,226h1v4h-1zM614,226h1v4h-1zM615,227h1v3h-1zM616,227h1v3h-1zM617,228h1v4h-1zM618,228h1v5h-1zM619,227h1v5h-1zM620,227h1v5h-1zM621,229h1v3h-1zM622,227h1v4h-1zM623,227h1v6h-1zM624,230h1v3h-1zM625,232h1v2h-1zM626,232h1v3h-1zM627,231h1v4h-1zM628,231h1v3h-1zM629,231h1v4h-1zM630,232h1v4h-1zM631,232h1v3h-1zM632,232h1v4h-1zM633,233h1v3h-1zM634,233h1v3h-1zM635,234h1v2h-1zM636,233h1v4h-1zM637,234h1v5h-1zM638,234h1v5h-1zM639,235h1v4h-1zM640,237h1v3h-1zM641,236h1v4h-1zM642,237h1v3h-1zM643,239h1v3h-1zM644,239h1v3h-1zM645,238h1v4h-1zM646,239h1v4h-1zM647,240h1v3h-1zM648,240h1v3h-1zM649,241h1v2h-1zM650,241h1v3h-1zM651,240h1v3h-1zM652,241h1v3h-1zM653,241h1v3h-1zM654,241h1v4h-1zM655,243h1v2h-1zM656,243h1v3h-1zM657,243h1v3h-1zM658,244h1v4h-1zM659,246h1v3h-1zM660,246h1v3h-1zM661,245h1v4h-1zM662,246h1v4h-1zM663,248h1v4h-1zM664,249h1v3h-1zM665,248h1v4h-1zM666,249h1v3h-1zM667,249h1v4h-1zM668,249h1v6h-1zM669,251h1v4h-1zM670,252h1v2h-1zM671,252h1v3h-1zM672,252h1v3h-1zM673,252h1v3h-1zM674,252h1v4h-1zM675,252h1v5h-1zM676,255h1v2h-1zM677,255h1v2h-1zM678,255h1v3h-1zM679,255h1v5h-1zM680,257h1v3h-1zM681,258h1v3h-1zM682,259h1v3h-1zM683,260h1v3h-1zM684,260h1v3h-1zM685,260h1v5h-1zM686,261h1v5h-1zM687,262h1v4h-1zM688,263h1v3h-1zM689,264h1v3h-1zM690,264h1v3h-1zM691,264h1v4h-1zM692,265h1v3h-1zM693,266h1v4h-1zM694,267h1v3h-1zM695,268h1v6h-1zM696,270h1v4h-1zM697,271h1v3h-1zM698,270h1v3h-1zM699,271h1v2h-1zM700,271h1v3h-1zM701,272h1v3h-1zM702,273h1v3h-1zM703,274h1v3h-1zM704,274h1v3h-1zM705,274h1v6h-1zM706,276h1v4h-1zM707,279h1v3h-1zM708,280h1v2h-1zM709,280h1v3h-1zM710,279h1v5h-1zM711,280h1v5h-1zM712,282h1v3h-1zM713,281h1v4h-1zM714,282h1v3h-1zM715,282h1v4h-1zM716,283h1v4h-1zM717,285h1v3h-1zM718,286h1v4h-1zM719,287h1v3h-1zM720,288h1v3h-1zM721,289h1v2h-1zM722,290h1v3h-1zM723,290h1v5h-1zM724,291h1v4h-1zM725,292h1v4h-1zM726,292h1v4h-1zM727,293h1v3h-1zM728,293h1v4h-1zM729,294h1v5h-1zM730,296h1v3h-1zM731,296h1v4h-1zM732,297h1v3h-1zM733,298h1v3h-1zM734,298h1v3h-1zM735,298h1v3h-1z" fill="#ff0000"/>
<path d="M50,436h1v2h-1zM51,435h1v3h-1zM52,436h1v3h-1zM53,436h1v2h-1zM54,435h1v3h-1zM55,435h1v3h-1zM56,436h1v2h-1zM57,436h1v2h-1zM58,435h1v3h-1zM59,436h1v2h-1zM60,436h1v2h-1zM61,436h1v2h-1zM62,436h1v2h-1zM63,436h1v3h-1zM64,436h1v3h-1zM65,437h1v2h-1zM66,436h1v3h-1zM67,435h1v4h-1zM68,435h1v4h-1zM69,436h1v2h-1zM70,436h1v2h-1zM71,436h1v2h-1zM72,436h1v2h-1zM73,436h1v3h-1zM74,436h1v3h-1zM75,436h1v3h-1zM76,436h1v3h-1zM77,436h1v3h-1zM78,436h1v3h-1zM79,436h1v3h-1zM80,436h1v3h-1zM81,436h1v3h-1zM82,436h1v3h-1zM83,436h1v3h-1zM84,436h1v2h-1zM85,435h1v3h-1zM86,436h1v3h-1zM87,437h1v2h-1zM88,436h1v3h-1zM89,436h1v2h-1zM90,435h1v3h-1zM91,435h1v2h-1zM92,435h1v2h-1zM93,434h1v3h-1zM94,435h1v2h-1zM95,435h1v3h-1zM96,435h1v3h-1zM97,434h1v3h-1zM98,434h1v2h-1zM99,433h1v3h-1zM100,433h1v3h-1zM101,433h1v3h-1zM102,433h1v3h-1zM103,433h1v3h-1zM104,433h1v3h-1zM105,433h1v2h-1zM106,432h1v2h-1zM107,432h1v2h-1zM108,431h1v3h-1zM109,430h1v3h-1zM110,429h1v3h-1zM111,429h1v3h-1zM112,428h1v3h-1zM113,428h1v2h-1zM114,426h1v3h-1zM115,425h1v4h-1zM116,423h1v4h-1zM117,423h1v2h-1zM118,423h1v2h-1zM119,422h1v3h-1zM120,420h1v3h-1zM121,419h1v4h-1zM122,417h1v3h-1zM123,415h1v5h-1zM124,414h1v4h-1zM125,412h1v4h-1zM126,410h1v5h-1zM127,408h1v4h-1zM128,405h1v6h-1zM129,404h1v5h-1zM130,401h1v5h-1zM131,400h1v4h-1zM132,398h1v4h-1zM133,396h1v5h-1zM134,393h1v5h-1zM135,392h1v4h-1zM136,389h1v5h-1zM137,387h1v6h-1zM138,385h1v5h-1zM139,383h1v5h-1zM140,380h1v5h-1zM141,378h1v5h-1zM142,375h1v6h-1zM143,372h1v7h-1zM144,367h1v8h-1zM145,366h1v6h-1zM146,366h1v3h-1zM147,364h1v4h-1zM148,361h1v5h-1zM149,356h1v9h-1zM150,352h1v9h-1zM151,350h1v7h-1zM152,348h1v5h-1zM153,344h1v7h-1zM154,342h1v6h-1zM155,340h1v5h-1zM156,337h1v7h-1zM157,334h1v7h-1zM158,332h1v6h-1zM159,330h1v5h-1zM160,328h1v4h-1zM161,326h1v4h-1zM162,323h1v5h-1zM163,321h1v5h-1zM164,318h1v6h-1zM165,314h1v8h-1zM166,313h1v6h-1zM167,312h1v3h-1zM168,309h1v5h-1zM169,307h1v6h-1zM170,305h1v5h-1zM171,303h1v5h-1zM172,301h1v6h-1zM173,300h1v4h-1zM174,297h1v4h-1zM175,295h1v6h-1zM176,294h1v4h-1zM177,293h1v4h-1zM178,291h1v4h-1zM179,289h1v4h-1zM180,287h1v5h-1zM181,284h1v6h-1zM182,283h1v4h-1zM183,283h1v3h-1zM184,280h1v6h-1zM185,277h1v6h-1zM186,276h1v5h-1zM187,276h1v4h-1zM188,275h1v4h-1zM189,274h1v3h-1zM190,272h1v4h-1zM191,270h1v5h-1zM192,270h1v4h-1zM193,269h1v4h-1zM194,269h1v3h-1zM195,266h1v6h-1zM196,264h1v6h-1zM197,264h1v3h-1zM198,263h1v4h-1zM199,261h1v5h-1zM200,260h1v4h-1zM201,259h1v3h-1zM202,260h1v2h-1zM203,258h1v4h-1zM204,257h1v4h-1zM205,258h1v2h-1zM206,257h1v3h-1zM207,257h1v4h-1zM208,257h1v4h-1zM209,257h1v3h-1zM210,256h1v3h-1zM211,253h1v5h-1zM212,253h1v6h-1zM213,256h1v4h-1zM214,258h1v2h-1zM215,257h1v3h-1zM216,257h1v2h-1zM217,257h1v3h-1zM218,258h1v3h-1zM219,258h1v4h-1zM220,259h1v3h-1zM221,259h1v3h-1zM222,259h1v3h-1zM223,260h1v4h-1zM224,260h1v5h-1zM225,262h1v3h-1zM226,263h1v3h-1zM227,264h1v3h-1zM228,263h1v4h-1zM229,264h1v3h-1zM230,264h1v3h-1zM231,264h1v3h-1zM232,263h1v3h-1zM233,264h1v3h-1zM234,265h1v2h-1zM235,265h1v2h-1zM236,265h1v3h-1zM237,266h1v2h-1zM238,266h1v2h-1zM239,265h1v3h-1zM240,265h1v2h-1zM241,265h1v2h-1zM242,264h1v4h-1zM243,265h1v3h-1zM244,264h1v4h-1zM245,264h1v4h-1zM246,265h1v4h-1zM247,265h1v3h-1zM248,265h1v3h-1zM249,265h1v2h-1zM250,265h1v3h-1zM251,265h1v4h-1zM252,265h1v4h-1zM253,265h1v4h-1zM254,266h1v3h-1zM255,267h1v3h-1zM256,268h1v2h-1zM257,267h1v3h-1zM258,267h1v4h-1zM259,268h1v6h-1zM260,269h1v5h-1zM261,270h1v2h-1zM262,269h1v3h-1zM263,270h1v3h-1zM264,270h1v4h-1zM265,271h1v3h-1zM266,271h1v3h-1zM267,272h1v3h-1zM268,272h1v3h-1zM269,271h1v4h-1zM270,272h1v3h-1zM271,272h1v3h-1zM272,273h1v4h-1zM273,274h1v3h-1zM274,274h1v4h-1zM275,274h1v4h-1zM276,275h1v3h-1zM277,275h1v2h-1zM278,275h1v2h-1zM279,275h1v3h-1zM280,274h1v4h-1zM281,274h1v4h-1zM282,274h1v4h-1zM283,274h1v4h-1zM284,274h1v6h-1zM285,276h1v3h-1zM286,275h1v3h-1zM287,275h1v4h-1zM288,274h1v5h-1zM289,275h1v5h-1zM290,275h1v5h-1zM291,276h1v3h-1zM292,277h1v2h-1zM293,277h1v3h-1zM294,278h1v3h-1zM295,279h1v2h-1zM296,279h1v2h-1zM297,279h1v3h-1zM298,280h1v3h-1zM299,280h1v3h-1zM300,278h1v4h-1zM301,278h1v4h-1zM302,279h1v3h-1zM303,278h1v4h-1zM304,278h1v4h-1zM305,279h1v4h-1zM306,279h1v3h-1zM307,279h1v3h-1zM308,280h1v3h-1zM309,280h1v2h-1zM310,279h1v3h-1zM311,280h1v3h-1zM312,280h1v3h-1zM313,278h1v4h-1zM314,278h1v4h-1zM315,279h1v4h-1zM316,280h1v3h-1zM317,281h1v2h-1zM318,281h1v2h-1zM319,281h1v3h-1zM320,280h1v3h-1zM321,281h1v4h-1zM322,280h1v5h-1zM323,280h1v4h-1zM324,281h1v3h-1zM325,281h1v2h-1zM326,280h1v3h-1zM327,281h1v3h-1zM328,282h1v3h-1zM329,282h1v3h-1zM330,281h1v4h-1zM331,281h1v3h-1zM332,282h1v2h-1zM333,282h1v3h-1zM334,282h1v3h-1zM335,281h1v4h-1zM336,281h1v4h-1zM337,280h1v4h-1zM338,279h1v3h-1zM339,279h1v3h-1zM340,279h1v3h-1zM341,280h1v2h-1zM342,280h1v2h-1zM343,279h1v3h-1zM344,278h1v3h-1zM345,279h1v2h-1zM346,279h1v2h-1zM347,279h1v2h-1zM348,278h1v3h-1zM349,278h1v3h-1zM350,278h1v3h-1zM351,279h1v3h-1zM352,280h1v2h-1zM353,280h1v2h-1zM354,279h1v3h-1zM355,278h1v3h-1zM356,278h1v2h-1zM357,278h1v3h-1zM358,279h1v2h-1zM359,279h1v2h-1zM360,279h1v2h-1zM361,279h1v2h-1zM362,279h1v2h-1zM363,279h1v2h-1zM364,278h1v3h-1zM365,278h1v3h-1zM366,279h1v2h-1zM367,279h1v3h-1zM368,279h1v4h-1zM369,278h1v5h-1zM370,279h1v2h-1zM371,278h1v3h-1zM372,278h1v4h-1zM373,279h1v3h-1zM374,279h1v2h-1zM375,278h1v2h-1zM376,277h1v3h-1zM377,276h1v4h-1zM378,276h1v2h-1zM379,276h1v2h-1zM380,275h1v3h-1zM381,271h1v5h-1zM382,271h1v5h-1zM383,272h1v4h-1zM384,271h1v5h-1zM385,270h1v4h-1zM386,270h1v3h-1zM387,269h1v4h-1zM388,269h1v4h-1zM389,269h1v4h-1zM390,268h1v5h-1zM391,268h1v4h-1zM392,268h1v3h-1zM393,268h1v3h-1zM394,269h1v4h-1zM395,270h1v4h-1zM396,270h1v5h-1zM397,271h1v5h-1zM398,274h1v3h-1zM399,275h1v2h-1zM400,275h1v3h-1zM401,275h1v5h-1zM402,277h1v4h-1zM403,279h1v4h-1zM404,280h1v3h-1zM405,280h1v3h-1zM406,279h1v4h-1zM407,279h1v3h-1zM408,280h1v3h-1zM409,281h1v4h-1zM410,282h1v4h-1zM411,283h1v3h-1zM412,284h1v3h-1zM413,283h1v3h-1zM414,283h1v3h-1zM415,281h1v4h-1zM416,281h1v3h-1zM417,281h1v2h-1zM418,280h1v4h-1zM419,279h1v5h-1zM420,279h1v3h-1zM421,279h1v2h-1zM422,278h1v3h-1zM423,278h1v3h-1zM424,279h1v2h-1zM425,277h1v4h-1zM426,276h1v4h-1zM427,275h1v4h-1zM428,275h1v4h-1zM429,275h1v3h-1zM430,274h1v3h-1zM431,274h1v3h-1zM432,273h1v4h-1zM433,271h1v5h-1zM434,271h1v4h-1zM435,271h1v3h-1zM436,270h1v3h-1zM437,270h1v3h-1zM438,267h1v7h-1zM439,267h1v6h-1zM440,266h1v3h-1zM441,265h1v4h-1zM442,265h1v4h-1zM443,264h1v3h-1zM444,264h1v2h-1zM445,262h1v4h-1zM446,260h1v4h-1zM447,259h1v4h-1zM448,260h1v2h-1zM449,259h1v3h-1zM450,257h1v5h-1zM451,255h1v6h-1zM452,255h1v4h-1zM453,257h1v3h-1zM454,258h1v2h-1zM455,258h1v3h-1zM456,259h1v3h-1zM457,259h1v2h-1zM458,258h1v6h-1zM459,259h1v6h-1zM460,260h1v6h-1zM461,261h1v6h-1zM462,265h1v3h-1zM463,265h1v4h-1zM464,266h1v5h-1zM465,268h1v3h-1zM466,268h1v4h-1zM467,269h1v5h-1zM468,271h1v4h-1zM469,273h1v2h-1zM470,272h1v5h-1zM471,273h1v6h-1zM472,276h1v4h-1zM473,278h1v4h-1zM474,278h1v5h-1zM475,279h1v4h-1zM476,280h1v3h-1zM477,281h1v3h-1zM478,282h1v4h-1zM479,282h1v4h-1zM480,283h1v2h-1zM481,283h1v4h-1zM482,284h1v3h-1zM483,285h1v2h-1zM484,284h1v4h-1zM485,285h1v4h-1zM486,285h1v3h-1zM487,285h1v2h-1zM488,283h1v4h-1zM489,283h1v4h-1zM490,283h1v4h-1zM491,281h1v5h-1zM492,278h1v7h-1zM493,277h1v4h-1zM494,277h1v4h-1zM495,278h1v4h-1zM496,278h1v3h-1zM497,277h1v3h-1zM498,277h1v3h-1zM499,277h1v2h-1zM500,276h1v3h-1zM501,275h1v4h-1zM502,276h1v4h-1zM503,277h1v3h-1zM504,277h1v2h-1zM505,277h1v3h-1zM506,278h1v3h-1zM507,278h1v3h-1zM508,277h1v4h-1zM509,277h1v5h-1zM510,279h1v3h-1zM511,279h1v5h-1zM512,280h1v4h-1zM513,280h1v4h-1zM514,281h1v3h-1zM515,282h1v3h-1zM516,282h1v3h-1zM517,282h1v2h-1zM518,282h1v3h-1zM519,283h1v4h-1zM520,284h1v3h-1zM521,284h1v3h-1zM522,284h1v3h-1zM523,285h1v2h-1zM524,284h1v3h-1zM525,283h1v4h-1zM526,283h1v2h-1zM527,283h1v2h-1zM528,282h1v3h-1zM529,282h1v4h-1zM530,281h1v5h-1zM531,282h1v2h-1zM532,281h1v4h-1zM533,281h1v2h-1zM534,280h1v3h-1zM535,281h1v3h-1zM536,282h1v2h-1zM537,282h1v3h-1zM538,283h1v3h-1zM539,282h1v3h-1zM540,282h1v3h-1zM541,284h1v2h-1zM542,284h1v2h-1zM543,284h1v2h-1zM544,284h1v3h-1zM545,284h1v4h-1zM546,286h1v3h-1zM547,287h1v2h-1zM548,287h1v2h-1zM549,288h1v2h-1zM550,288h1v4h-1zM551,289h1v3h-1zM552,290h1v3h-1zM553,290h1v3h-1zM554,290h1v3h-1zM555,290h1v3h-1zM556,291h1v3h-1zM557,292h1v3h-1zM558,293h1v2h-1zM559,293h1v3h-1zM560,294h1v2h-1zM561,294h1v2h-1zM562,294h1v2h-1zM563,294h1v3h-1zM564,294h1v3h-1zM565,295h1v3h-1zM566,295h1v3h-1zM567,294h1v3h-1zM568,294h1v2h-1zM569,295h1v2h-1zM570,295h1v3h-1zM571,295h1v2h-1zM572,295h1v3h-1zM573,295h1v2h-1zM574,295h1v4h-1zM575,296h1v3h-1zM576,296h1v2h-1zM577,295h1v3h-1zM578,295h1v3h-1zM579,296h1v2h-1zM580,296h1v2h-1zM581,296h1v2h-1zM582,296h1v2h-1zM583,297h1v3h-1zM584,296h1v4h-1zM585,295h1v4h-1zM586,296h1v2h-1zM587,296h1v3h-1zM588,297h1v3h-1zM589,297h1v3h-1zM590,297h1v3h-1zM591,297h1v2h-1zM592,297h1v2h-1zM593,297h1v4h-1zM594,297h1v4h-1zM595,297h1v4h-1zM596,299h1v3h-1zM597,299h1v2h-1zM598,298h1v3h-1zM599,299h1v2h-1zM600,299h1v3h-1zM601,299h1v3h-1zM602,300h1v2h-1zM603,300h1v2h-1zM604,300h1v2h-1zM605,300h1v2h-1zM606,299h1v3h-1zM607,300h1v2h-1zM608,299h1v4h-1zM609,300h1v4h-1zM610,299h1v4h-1zM611,299h1v4h-1zM612,299h1v3h-1zM613,299h1v3h-1zM614,299h1v3h-1zM615,300h1v3h-1zM616,301h1v3h-1zM617,302h1v2h-1zM618,302h1v2h-1zM619,301h1v3h-1zM620,302h1v3h-1zM621,302h1v3h-1zM622,302h1v4h-1zM623,303h1v3h-1zM624,303h1v3h-1zM625,303h1v3h-1zM626,302h1v4h-1zM627,303h1v2h-1zM628,303h1v3h-1zM629,303h1v3h-1zM630,304h1v3h-1zM631,304h1v3h-1zM632,304h1v2h-1zM633,303h1v3h-1zM634,304h1v3h-1zM635,304h1v3h-1zM636,303h1v4h-1zM637,304h1v4h-1zM638,306h1v2h-1zM639,305h1v4h-1zM640,305h1v3h-1zM641,306h1v2h-1zM642,306h1v3h-1zM643,307h1v2h-1zM644,307h1v2h-1zM645,307h1v2h-1zM646,306h1v3h-1zM647,306h1v4h-1zM648,307h1v3h-1zM649,306h1v3h-1zM650,307h1v4h-1zM651,308h1v4h-1zM652,308h1v3h-1zM653,307h1v4h-1zM654,308h1v3h-1zM655,309h1v3h-1zM656,310h1v2h-1zM657,310h1v3h-1zM658,311h1v3h-1zM659,311h1v3h-1zM660,310h1v5h-1zM661,311h1v4h-1zM662,312h1v3h-1zM663,312h1v4h-1zM664,312h1v3h-1zM665,313h1v2h-1zM666,314h1v2h-1zM667,314h1v4h-1zM668,315h1v3h-1zM669,315h1v3h-1zM670,315h1v3h-1zM671,315h1v4h-1zM672,315h1v5h-1zM673,315h1v4h-1zM674,316h1v3h-1zM675,316h1v3h-1zM676,316h1v5h-1zM677,318h1v3h-1zM678,318h1v3h-1zM679,319h1v2h-1zM680,319h1v4h-1zM681,320h1v5h-1zM682,322h1v3h-1zM683,322h1v3h-1zM684,321h1v4h-1zM685,322h1v3h-1zM686,323h1v3h-1zM687,324h1v2h-1zM688,324h1v3h-1zM689,325h1v2h-1zM690,325h1v3h-1zM691,325h1v4h-1zM692,326h1v2h-1zM693,327h1v2h-1zM694,328h1v3h-1zM695,329h1v3h-1zM696,329h1v3h-1zM697,330h1v2h-1zM698,330h1v3h-1zM699,329h1v4h-1zM700,330h1v4h-1zM701,331h1v3h-1zM702,332h1v3h-1zM703,333h1v3h-1zM704,333h1v4h-1zM705,333h1v4h-1zM706,333h1v7h-1zM707,336h1v4h-1zM708,337h1v2h-1zM709,336h1v3h-1zM710,336h1v4h-1zM711,337h1v4h-1zM712,338h1v3h-1zM713,338h1v4h-1zM714,340h1v2h-1zM715,340h1v4h-1zM716,340h1v5h-1zM717,343h1v3h-1zM718,343h1v3h-1zM719,343h1v3h-1zM720,343h1v3h-1zM721,343h1v5h-1zM722,344h1v5h-1zM723,346h1v4h-1zM724,347h1v2h-1zM725,346h1v4h-1zM726,347h1v4h-1zM727,348h1v2h-1zM728,348h1v3h-1zM729,348h1v4h-1zM730,350h1v3h-1zM731,350h1v3h-1zM732,351h1v3h-1zM733,352h1v3h-1zM734,353h1v3h-1zM735,354h1v1h-1z" fill="#0000ff"/>
<path d="M50,449h1v2h-1zM51,448h1v3h-1zM52,448h1v3h-1zM53,449h1v2h-1zM54,449h1v2h-1zM55,449h1v2h-1zM56,449h1v2h-1zM57,449h1v2h-1zM58,449h1v2h-1zM59,449h1v3h-1zM60,449h1v3h-1zM61,450h1v2h-1zM62,449h1v3h-1zM63,449h1v2h-1zM64,449h1v3h-1zM65,449h1v3h-1zM66,449h1v3h-1zM67,450h1v2h-1zM68,450h1v2h-1zM69,449h1v3h-1zM70,450h1v2h-1zM71,450h1v2h-1zM72,450h1v2h-1zM73,450h1v2h-1zM74,449h1v3h-1zM75,449h1v3h-1zM76,449h1v3h-1zM77,449h1v3h-1zM78,449h1v3h-1zM79,449h1v2h-1zM80,449h1v2h-1zM81,449h1v2h-1zM82,449h1v2h-1zM83,449h1v3h-1zM84,449h1v3h-1zM85,449h1v3h-1zM86,449h1v2h-1zM87,449h1v2h-1zM88,449h1v3h-1zM89,449h1v3h-1zM90,449h1v2h-1zM91,449h1v2h-1zM92,448h1v3h-1zM93,447h1v4h-1zM94,448h1v3h-1zM95,448h1v3h-1zM96,448h1v2h-1zM97,449h1v2h-1zM98,448h1v3h-1zM99,447h1v3h-1zM100,448h1v2h-1zM101,447h1v3h-1zM102,448h1v2h-1zM103,448h1v2h-1zM104,446h1v4h-1zM105,446h1v3h-1zM106,446h1v3h-1zM107,446h1v2h-1zM108,446h1v3h-1zM109,445h1v4h-1zM110,444h1v4h-1zM111,445h1v2h-1zM112,444h1v2h-1zM113,444h1v2h-1zM114,444h1v2h-1zM115,442h1v3h-1zM116,442h1v2h-1zM117,442h1v2h-1zM118,441h1v3h-1zM119,440h1v3h-1zM120,439h1v3h-1zM121,439h1v2h-1zM122,436h1v4h-1zM123,435h1v4h-1zM124,433h1v4h-1zM125,432h1v4h-1zM126,431h1v3h-1zM127,430h1v3h-1zM128,429h1v3h-1zM129,427h1v4h-1zM130,426h1v3h-1zM131,424h1v4h-1zM132,423h1v4h-1zM133,421h1v4h-1zM134,420h1v4h-1zM135,419h1v3h-1zM136,417h1v4h-1zM137,414h1v6h-1zM138,413h1v4h-1zM139,409h1v5h-1zM140,408h1v5h-1zM141,406h1v4h-1zM142,403h1v5h-1zM143,401h1v6h-1zM144,399h1v5h-1zM145,397h1v5h-1zM146,394h1v6h-1zM147,393h1v5h-1zM148,391h1v5h-1zM149,389h1v6h-1zM150,387h1v5h-1zM151,386h1v5h-1zM152,382h1v5h-1zM153,382h1v4h-1zM154,381h1v3h-1zM155,378h1v5h-1zM156,377h1v4h-1zM157,376h1v4h-1zM158,375h1v3h-1zM159,374h1v3h-1zM160,373h1v3h-1zM161,372h1v4h-1zM162,371h1v3h-1zM163,370h1v3h-1zM164,370h1v2h-1zM165,368h1v4h-1zM166,367h1v3h-1zM167,367h1v2h-1zM168,366h1v2h-1zM169,364h1v4h-1zM170,363h1v4h-1zM171,363h1v4h-1zM172,363h1v3h-1zM173,362h1v3h-1zM174,361h1v3h-1zM175,361h1v2h-1zM176,360h1v2h-1zM177,359h1v3h-1zM178,359h1v2h-1zM179,359h1v2h-1zM180,358h1v2h-1zM181,356h1v4h-1zM182,356h1v3h-1zM183,356h1v3h-1zM184,356h1v2h-1zM185,356h1v3h-1zM186,356h1v3h-1zM187,356h1v3h-1zM188,356h1v3h-1zM189,355h1v3h-1zM190,355h1v3h-1zM191,355h1v3h-1zM192,355h1v3h-1zM193,355h1v3h-1zM194,355h1v3h-1zM195,356h1v2h-1zM196,356h1v2h-1zM197,355h1v2h-1zM198,355h1v2h-1zM199,355h1v2h-1zM200,355h1v2h-1zM201,355h1v3h-1zM202,355h1v3h-1zM203,355h1v2h-1zM204,355h1v2h-1zM205,355h1v2h-1zM206,354h1v3h-1zM207,354h1v3h-1zM208,355h1v3h-1zM209,355h1v3h-1zM210,356h1v3h-1zM211,357h1v2h-1zM212,357h1v2h-1zM213,356h1v3h-1zM214,356h1v3h-1zM215,357h1v2h-1zM216,356h1v4h-1zM217,357h1v5h-1zM218,360h1v3h-1zM219,360h1v3h-1zM220,361h1v2h-1zM221,361h1v3h-1zM222,361h1v4h-1zM223,362h1v4h-1zM224,364h1v2h-1zM225,364h1v3h-1zM226,364h1v4h-1zM227,365h1v3h-1zM228,366h1v3h-1zM229,366h1v3h-1zM230,366h1v4h-1zM231,367h1v3h-1zM232,368h1v2h-1zM233,368h1v2h-1zM234,368h1v2h-1zM235,368h1v2h-1zM236,368h1v2h-1zM237,368h1v2h-1zM238,368h1v2h-1zM239,368h1v3h-1zM240,369h1v3h-1zM241,368h1v4h-1zM242,368h1v4h-1zM243,368h1v3h-1zM244,369h1v2h-1zM245,369h1v2h-1zM246,369h1v3h-1zM247,370h1v3h-1zM248,371h1v2h-1zM249,370h1v4h-1zM250,371h1v3h-1zM251,371h1v3h-1zM252,371h1v4h-1zM253,372h1v3h-1zM254,372h1v3h-1zM255,373h1v2h-1zM256,373h1v3h-1zM257,373h1v3h-1zM258,374h1v3h-1zM259,374h1v3h-1zM260,374h1v3h-1zM261,375h1v3h-1zM262,376h1v2h-1zM263,376h1v3h-1zM264,376h1v3h-1zM265,376h1v3h-1zM266,377h1v3h-1zM267,378h1v2h-1zM268,378h1v3h-1zM269,378h1v3h-1zM270,379h1v2h-1zM271,378h1v4h-1zM272,379h1v3h-1zM273,380h1v2h-1zM274,380h1v2h-1zM275,379h1v3h-1zM276,379h1v3h-1zM277,380h1v2h-1zM278,380h1v3h-1zM279,381h1v2h-1zM280,381h1v2h-1zM281,381h1v2h-1zM282,381h1v3h-1zM283,381h1v2h-1zM284,381h1v2h-1zM285,381h1v3h-1zM286,382h1v3h-1zM287,383h1v2h-1zM288,383h1v2h-1zM289,383h1v2h-1zM290,383h1v2h-1zM291,382h1v3h-1zM292,383h1v2h-1zM293,383h1v2h-1zM294,383h1v2h-1zM295,383h1v2h-1zM296,382h1v3h-1zM297,383h1v3h-1zM298,383h1v3h-1zM299,384h1v2h-1zM300,384h1v2h-1zM301,383h1v3h-1zM302,383h1v3h-1zM303,383h1v2h-1zM304,383h1v4h-1zM305,383h1v4h-1zM306,384h1v3h-1zM307,385h1v2h-1zM308,385h1v3h-1zM309,385h1v3h-1zM310,385h1v3h-1zM311,385h1v3h-1zM312,384h1v3h-1zM313,384h1v3h-1zM314,384h1v2h-1zM315,384h1v3h-1zM316,384h1v4h-1zM317,384h1v3h-1zM318,384h1v2h-1zM319,384h1v2h-1zM320,383h1v3h-1zM321,383h1v2h-1zM322,383h1v2h-1zM323,383h1v3h-1zM324,384h1v3h-1zM325,385h1v2h-1zM326,384h1v3h-1zM327,383h1v3h-1zM328,383h1v3h-1zM329,383h1v3h-1zM330,383h1v4h-1zM331,384h1v3h-1zM332,384h1v3h-1zM333,383h1v3h-1zM334,383h1v2h-1zM335,383h1v2h-1zM336,383h1v2h-1zM337,382h1v3h-1zM338,381h1v3h-1zM339,381h1v2h-1zM340,380h1v3h-1zM341,381h1v2h-1zM342,381h1v2h-1zM343,380h1v3h-1zM344,379h1v3h-1zM345,379h1v3h-1zM346,379h1v3h-1zM347,379h1v2h-1zM348,379h1v2h-1zM349,378h1v3h-1zM350,378h1v3h-1zM351,378h1v4h-1zM352,379h1v2h-1zM353,379h1v3h-1zM354,378h1v3h-1zM355,378h1v3h-1zM356,378h1v3h-1zM357,378h1v2h-1zM358,377h1v3h-1zM359,377h1v3h-1zM360,376h1v4h-1zM361,375h1v4h-1zM362,376h1v2h-1zM363,375h1v3h-1zM364,375h1v3h-1zM365,375h1v3h-1zM366,375h1v2h-1zM367,374h1v3h-1zM368,374h1v3h-1zM369,374h1v2h-1zM370,374h1v2h-1zM371,374h1v2h-1zM372,374h1v2h-1zM373,374h1v3h-1zM374,373h1v4h-1zM375,372h1v3h-1zM376,372h1v2h-1zM377,371h1v3h-1zM378,370h1v3h-1zM379,370h1v3h-1zM380,369h1v4h-1zM381,368h1v3h-1zM382,368h1v2h-1zM383,368h1v3h-1zM384,367h1v3h-1zM385,365h1v5h-1zM386,365h1v4h-1zM387,367h1v3h-1zM388,366h1v4h-1zM389,365h1v4h-1zM390,365h1v3h-1zM391,365h1v3h-1zM392,365h1v2h-1zM393,366h1v2h-1zM394,366h1v2h-1zM395,365h1v4h-1zM396,365h1v5h-1zM397,365h1v4h-1zM398,365h1v4h-1zM399,366h1v3h-1zM400,367h1v2h-1zM401,367h1v2h-1zM402,367h1v2h-1zM403,366h1v3h-1zM404,366h1v4h-1zM405,368h1v2h-1zM406,368h1v2h-1zM407,368h1v3h-1zM408,369h1v2h-1zM409,369h1v2h-1zM410,368h1v2h-1zM411,368h1v2h-1zM412,368h1v2h-1zM413,368h1v2h-1zM414,368h1v2h-1zM415,368h1v2h-1zM416,368h1v2h-1zM417,367h1v3h-1zM418,367h1v2h-1zM419,365h1v4h-1zM420,365h1v3h-1zM421,364h1v4h-1zM422,364h1v3h-1zM423,364h1v3h-1zM424,363h1v3h-1zM425,362h1v3h-1zM426,362h1v3h-1zM427,362h1v2h-1zM428,361h1v3h-1zM429,362h1v2h-1zM430,361h1v2h-1zM431,359h1v4h-1zM432,359h1v3h-1zM433,360h1v2h-1zM434,359h1v3h-1zM435,358h1v3h-1zM436,357h1v3h-1zM437,355h1v4h-1zM438,354h1v3h-1zM439,353h1v3h-1zM440,353h1v3h-1zM441,351h1v4h-1zM442,351h1v3h-1zM443,350h1v4h-1zM444,349h1v4h-1zM445,349h1v3h-1zM446,348h1v4h-1zM447,347h1v3h-1zM448,348h1v2h-1zM449,348h1v2h-1zM450,347h1v3h-1zM451,347h1v3h-1zM452,347h1v2h-1zM453,347h1v2h-1zM454,347h1v3h-1zM455,347h1v3h-1zM456,345h1v4h-1zM457,344h1v5h-1zM458,346h1v3h-1zM459,347h1v2h-1zM460,347h1v4h-1zM461,348h1v3h-1zM462,348h1v3h-1zM463,349h1v2h-1zM464,349h1v3h-1zM465,350h1v3h-1zM466,350h1v3h-1zM467,350h1v4h-1zM468,352h1v3h-1zM469,352h1v5h-1zM470,353h1v4h-1zM471,354h1v4h-1zM472,355h1v2h-1zM473,355h1v3h-1zM474,356h1v3h-1zM475,356h1v2h-1zM476,356h1v4h-1zM477,357h1v4h-1zM478,356h1v4h-1zM479,357h1v3h-1zM480,358h1v2h-1zM481,357h1v3h-1zM482,358h1v2h-1zM483,357h1v3h-1zM484,357h1v4h-1zM485,356h1v5h-1zM486,356h1v3h-1zM487,356h1v3h-1zM488,356h1v3h-1zM489,355h1v3h-1zM490,355h1v2h-1zM491,354h1v3h-1zM492,352h1v6h-1zM493,352h1v5h-1zM494,352h1v3h-1zM495,351h1v3h-1zM496,351h1v2h-1zM497,350h1v3h-1zM498,350h1v3h-1zM499,349h1v4h-1zM500,349h1v4h-1zM501,350h1v3h-1zM502,350h1v2h-1zM503,350h1v2h-1zM504,350h1v2h-1zM505,350h1v2h-1zM506,350h1v3h-1zM507,351h1v2h-1zM508,351h1v2h-1zM509,351h1v2h-1zM510,350h1v4h-1zM511,351h1v3h-1zM512,352h1v2h-1zM513,352h1v3h-1zM514,353h1v3h-1zM515,352h1v3h-1zM516,352h1v3h-1zM517,351h1v3h-1zM518,352h1v2h-1zM519,352h1v3h-1zM520,352h1v2h-1zM521,352h1v2h-1zM522,352h1v2h-1zM523,352h1v2h-1zM524,352h1v2h-1zM525,351h1v3h-1zM526,351h1v2h-1zM527,351h1v2h-1zM528,349h1v4h-1zM529,349h1v3h-1zM530,349h1v3h-1zM531,349h1v3h-1zM532,349h1v3h-1zM533,349h1v3h-1zM534,348h1v3h-1zM535,348h1v2h-1zM536,348h1v3h-1zM537,348h1v3h-1zM538,348h1v4h-1zM539,348h1v4h-1zM540,348h1v3h-1zM541,348h1v3h-1zM542,349h1v3h-1zM543,350h1v3h-1zM544,350h1v2h-1zM545,349h1v3h-1zM546,350h1v4h-1zM547,350h1v4h-1zM548,350h1v4h-1zM549,350h1v4h-1zM550,350h1v3h-1zM551,351h1v3h-1zM552,351h1v3h-1zM553,352h1v2h-1zM554,352h1v3h-1zM555,352h1v2h-1zM556,352h1v3h-1zM557,352h1v3h-1zM558,352h1v3h-1zM559,352h1v4h-1zM560,352h1v3h-1zM561,352h1v3h-1zM562,351h1v4h-1zM563,351h1v3h-1zM564,351h1v3h-1zM565,351h1v3h-1zM566,351h1v3h-1zM567,352h1v2h-1zM568,352h1v3h-1zM569,351h1v4h-1zM570,351h1v2h-1zM571,351h1v2h-1zM572,351h1v2h-1zM573,351h1v3h-1zM574,352h1v2h-1zM575,351h1v2h-1zM576,351h1v2h-1zM577,351h1v2h-1zM578,352h1v2h-1zM579,351h1v3h-1zM580,350h1v3h-1zM581,350h1v3h-1zM582,350h1v3h-1zM583,349h1v4h-1zM584,350h1v3h-1zM585,350h1v3h-1zM586,350h1v4h-1zM587,351h1v3h-1zM588,351h1v3h-1zM589,351h1v3h-1zM590,351h1v4h-1zM591,351h1v4h-1zM592,351h1v3h-1zM593,351h1v2h-1zM594,351h1v2h-1zM595,351h1v3h-1zM596,352h1v3h-1zM597,352h1v2h-1zM598,351h1v3h-1zM599,351h1v3h-1zM600,351h1v3h-1zM601,351h1v3h-1zM602,351h1v2h-1zM603,351h1v2h-1zM604,351h1v2h-1zM605,351h1v2h-1zM606,351h1v2h-1zM607,350h1v3h-1zM608,350h1v2h-1zM609,350h1v2h-1zM610,351h1v2h-1zM611,350h1v3h-1zM612,350h1v2h-1zM613,349h1v3h-1zM614,348h1v3h-1zM615,348h1v4h-1zM616,349h1v2h-1zM617,349h1v3h-1zM618,349h1v3h-1zM619,349h1v3h-1zM620,350h1v2h-1zM621,350h1v2h-1zM622,350h1v3h-1zM623,351h1v3h-1zM624,352h1v3h-1zM625,352h1v3h-1zM626,352h1v2h-1zM627,352h1v2h-1zM628,352h1v2h-1zM629,351h1v3h-1zM630,351h1v4h-1zM631,351h1v3h-1zM632,352h1v2h-1zM633,351h1v3h-1zM634,351h1v2h-1zM635,351h1v2h-1zM636,351h1v2h-1zM637,351h1v2h-1zM638,351h1v3h-1zM639,352h1v2h-1zM640,352h1v3h-1zM641,352h1v3h-1zM642,353h1v2h-1zM643,353h1v2h-1zM644,353h1v2h-1zM645,353h1v2h-1zM646,353h1v2h-1zM647,354h1v2h-1zM648,353h1v4h-1zM649,353h1v3h-1zM650,352h1v3h-1zM651,352h1v2h-1zM652,352h1v2h-1zM653,352h1v2h-1zM654,352h1v3h-1zM655,353h1v2h-1zM656,352h1v5h-1zM657,353h1v5h-1zM658,355h1v2h-1zM659,355h1v3h-1zM660,355h1v4h-1zM661,355h1v4h-1zM662,355h1v3h-1zM663,356h1v2h-1zM664,356h1v3h-1zM665,356h1v3h-1zM666,356h1v3h-1zM667,357h1v2h-1zM668,358h1v2h-1zM669,358h1v3h-1zM670,358h1v3h-1zM671,358h1v3h-1zM672,358h1v3h-1zM673,359h1v2h-1zM674,359h1v2h-1zM675,359h1v2h-1zM676,359h1v2h-1zM677,359h1v3h-1zM678,359h1v4h-1zM679,360h1v4h-1zM680,361h1v3h-1zM681,362h1v2h-1zM682,361h1v3h-1zM683,361h1v4h-1zM684,362h1v3h-1zM685,363h1v2h-1zM686,363h1v3h-1zM687,363h1v3h-1zM688,363h1v3h-1zM689,363h1v3h-1zM690,364h1v3h-1zM691,365h1v2h-1zM692,365h1v3h-1zM693,366h1v2h-1zM694,365h1v4h-1zM695,365h1v4h-1zM696,366h1v3h-1zM697,366h1v3h-1zM698,367h1v3h-1zM699,367h1v3h-1zM700,368h1v3h-1zM701,369h1v2h-1zM702,369h1v2h-1zM703,369h1v3h-1zM704,370h1v3h-1zM705,370h1v3h-1zM706,370h1v3h-1zM707,371h1v3h-1zM708,371h1v4h-1zM709,372h1v3h-1zM710,372h1v4h-1zM711,373h1v4h-1zM712,374h1v3h-1zM713,374h1v3h-1zM714,375h1v3h-1zM715,376h1v2h-1zM716,377h1v2h-1zM717,376h1v3h-1zM718,377h1v3h-1zM719,378h1v2h-1zM720,377h1v3h-1zM721,378h1v3h-1zM722,379h1v2h-1zM723,379h1v2h-1zM724,379h1v4h-1zM725,380h1v3h-1zM726,380h1v3h-1zM727,381h1v2h-1zM728,381h1v3h-1zM729,382h1v3h-1zM730,383h1v3h-1zM731,383h1v3h-1zM732,384h1v2h-1zM733,384h1v2h-1zM734,384h1v3h-1zM735,384h1v4h-1z" fill="#ff00ff"/>
<path d="M50,437h1v2h-1zM51,437h1v2h-1zM52,437h1v2h-1zM53,436h1v3h-1zM54,437h1v2h-1zM55,438h1v2h-1zM56,437h1v3h-1zM57,437h1v3h-1zM58,437h1v3h-1zM59,438h1v3h-1zM60,437h1v3h-1zM61,438h1v2h-1zM62,438h1v2h-1zM63,438h1v2h-1zM64,438h1v2h-1zM65,438h1v3h-1zM66,439h1v2h-1zM67,438h1v3h-1zM68,438h1v3h-1zM69,439h1v2h-1zM70,439h1v2h-1zM71,439h1v2h-1zM72,437h1v4h-1zM73,437h1v4h-1zM74,438h1v4h-1zM75,438h1v3h-1zM76,439h1v2h-1zM77,439h1v3h-1zM78,439h1v3h-1zM79,439h1v3h-1zM80,439h1v2h-1zM81,439h1v2h-1zM82,439h1v3h-1zM83,440h1v2h-1zM84,439h1v3h-1zM85,439h1v2h-1zM86,439h1v2h-1zM87,437h1v4h-1zM88,437h1v4h-1zM89,438h1v3h-1zM90,439h1v2h-1zM91,438h1v3h-1zM92,438h1v4h-1zM93,439h1v2h-1zM94,439h1v2h-1zM95,439h1v2h-1zM96,439h1v2h-1zM97,438h1v3h-1zM98,438h1v3h-1zM99,439h1v2h-1zM100,438h1v3h-1zM101,438h1v2h-1zM102,438h1v2h-1zM103,437h1v3h-1zM104,437h1v3h-1zM105,437h1v3h-1zM106,437h1v2h-1zM107,437h1v3h-1zM108,436h1v3h-1zM109,436h1v2h-1zM110,435h1v3h-1zM111,434h1v3h-1zM112,433h1v3h-1zM113,433h1v3h-1zM114,433h1v3h-1zM115,433h1v2h-1zM116,432h1v3h-1zM117,432h1v2h-1zM118,431h1v3h-1zM119,431h1v2h-1zM120,430h1v3h-1zM121,430h1v3h-1zM122,429h1v4h-1zM123,428h1v3h-1zM124,427h1v3h-1zM125,425h1v4h-1zM126,423h1v4h-1zM127,422h1v3h-1zM128,420h1v4h-1zM129,420h1v3h-1zM130,419h1v3h-1zM131,418h1v3h-1zM132,417h1v3h-1zM133,416h1v3h-1zM134,415h1v3h-1zM135,413h1v4h-1zM136,411h1v4h-1zM137,409h1v5h-1zM138,408h1v4h-1zM139,406h1v3h-1zM140,404h1v4h-1zM141,403h1v4h-1zM142,402h1v4h-1zM143,400h1v5h-1zM144,399h1v4h-1zM145,398h1v3h-1zM146,397h1v4h-1zM147,395h1v5h-1zM148,393h1v4h-1zM149,392h1v3h-1zM150,390h1v4h-1zM151,389h1v4h-1zM152,388h1v3h-1zM153,387h1v3h-1zM154,386h1v3h-1zM155,385h1v3h-1zM156,384h1v3h-1zM157,382h1v4h-1zM158,381h1v4h-1zM159,381h1v3h-1zM160,381h1v3h-1zM161,379h1v4h-1zM162,378h1v3h-1zM163,377h1v3h-1zM164,377h1v2h-1zM165,376h1v3h-1zM166,376h1v2h-1zM167,375h1v2h-1zM168,374h1v3h-1zM169,374h1v2h-1zM170,373h1v3h-1zM171,372h1v3h-1zM172,372h1v2h-1zM173,370h1v4h-1zM174,370h1v3h-1zM175,369h1v4h-1zM176,369h1v5h-1zM177,371h1v3h-1zM178,369h1v3h-1zM179,369h1v2h-1zM180,369h1v2h-1zM181,368h1v3h-1zM182,368h1v3h-1zM183,369h1v2h-1zM184,367h1v4h-1zM185,366h1v3h-1zM186,367h1v2h-1zM187,367h1v2h-1zM188,368h1v2h-1zM189,367h1v3h-1zM190,367h1v2h-1zM191,367h1v3h-1zM192,367h1v2h-1zM193,367h1v2h-1zM194,366h1v3h-1zM195,366h1v2h-1zM196,366h1v2h-1zM197,366h1v2h-1zM198,366h1v3h-1zM199,366h1v3h-1zM200,366h1v3h-1zM201,365h1v4h-1zM202,366h1v3h-1zM203,366h1v3h-1zM204,366h1v3h-1zM205,366h1v2h-1zM206,366h1v2h-1zM207,366h1v3h-1zM208,367h1v2h-1zM209,367h1v2h-1zM210,366h1v3h-1zM211,367h1v2h-1zM212,367h1v3h-1zM213,368h1v2h-1zM214,369h1v3h-1zM215,369h1v4h-1zM216,369h1v4h-1zM217,370h1v3h-1zM218,370h1v4h-1zM219,371h1v3h-1zM220,371h1v3h-1zM221,371h1v3h-1zM222,372h1v3h-1zM223,372h1v3h-1zM224,372h1v3h-1zM225,372h1v3h-1zM226,372h1v3h-1zM227,373h1v3h-1zM228,372h1v4h-1zM229,373h1v3h-1zM230,373h1v2h-1zM231,373h1v3h-1zM232,373h1v3h-1zM233,373h1v3h-1zM234,374h1v2h-1zM235,374h1v2h-1zM236,373h1v3h-1zM237,373h1v2h-1zM238,374h1v2h-1zM239,374h1v3h-1zM240,374h1v3h-1zM241,374h1v3h-1zM242,374h1v2h-1zM243,374h1v3h-1zM244,374h1v4h-1zM245,374h1v3h-1zM246,375h1v3h-1zM247,375h1v4h-1zM248,376h1v3h-1zM249,375h1v3h-1zM250,375h1v3h-1zM251,376h1v2h-1zM252,376h1v2h-1zM253,376h1v2h-1zM254,376h1v3h-1zM255,377h1v2h-1zM256,377h1v2h-1zM257,376h1v3h-1zM258,376h1v4h-1zM259,377h1v3h-1zM260,377h1v3h-1zM261,378h1v2h-1zM262,378h1v3h-1zM263,378h1v3h-1zM264,378h1v3h-1zM265,379h1v2h-1zM266,379h1v3h-1zM267,380h1v2h-1zM268,380h1v3h-1zM269,380h1v3h-1zM270,381h1v2h-1zM271,381h1v2h-1zM272,381h1v2h-1zM273,381h1v2h-1zM274,381h1v3h-1zM275,382h1v3h-1zM276,382h1v3h-1zM277,382h1v3h-1zM278,383h1v2h-1zM279,383h1v2h-1zM280,383h1v3h-1zM281,383h1v2h-1zM282,383h1v3h-1zM283,383h1v3h-1zM284,383h1v3h-1zM285,384h1v2h-1zM286,384h1v2h-1zM287,384h1v3h-1zM288,385h1v2h-1zM289,384h1v3h-1zM290,384h1v3h-1zM291,385h1v2h-1zM292,385h1v3h-1zM293,385h1v3h-1zM294,385h1v2h-1zM295,385h1v3h-1zM296,385h1v4h-1zM297,385h1v4h-1zM298,385h1v3h-1zM299,386h1v2h-1zM300,386h1v3h-1zM301,386h1v2h-1zM302,386h1v2h-1zM303,387h1v2h-1zM304,386h1v3h-1zM305,386h1v3h-1zM306,386h1v3h-1zM307,386h1v3h-1zM308,386h1v2h-1zM309,386h1v3h-1zM310,385h1v4h-1zM311,385h1v3h-1zM312,386h1v3h-1zM313,386h1v3h-1zM314,386h1v3h-1zM315,386h1v3h-1zM316,386h1v3h-1zM317,386h1v3h-1zM318,386h1v2h-1zM319,386h1v3h-1zM320,387h1v2h-1zM321,387h1v2h-1zM322,386h1v3h-1zM323,386h1v2h-1zM324,386h1v3h-1zM325,386h1v3h-1zM326,386h1v2h-1zM327,386h1v2h-1zM328,386h1v2h-1zM329,385h1v3h-1zM330,384h1v3h-1zM331,385h1v3h-1zM332,385h1v3h-1zM333,384h1v4h-1zM334,385h1v3h-1zM335,385h1v4h-1zM336,385h1v3h-1zM337,385h1v2h-1zM338,384h1v3h-1zM339,384h1v3h-1zM340,384h1v2h-1zM341,383h1v3h-1zM342,383h1v3h-1zM343,383h1v3h-1zM344,382h1v3h-1zM345,382h1v3h-1zM346,382h1v4h-1zM347,382h1v3h-1zM348,382h1v3h-1zM349,382h1v2h-1zM350,382h1v2h-1zM351,381h1v3h-1zM352,380h1v4h-1zM353,379h1v5h-1zM354,380h1v4h-1zM355,381h1v3h-1zM356,380h1v3h-1zM357,380h1v2h-1zM358,381h1v2h-1zM359,381h1v2h-1zM360,380h1v2h-1zM361,380h1v3h-1zM362,380h1v3h-1zM363,380h1v4h-1zM364,380h1v3h-1zM365,380h1v2h-1zM366,380h1v2h-1zM367,380h1v3h-1zM368,379h1v3h-1zM369,379h1v3h-1zM370,378h1v4h-1zM371,378h1v4h-1zM372,379h1v3h-1zM373,379h1v2h-1zM374,379h1v3h-1zM375,379h1v2h-1zM376,379h1v2h-1zM377,378h1v3h-1zM378,377h1v3h-1zM379,377h1v2h-1zM380,376h1v2h-1zM381,375h1v3h-1zM382,376h1v2h-1zM383,375h1v3h-1zM384,375h1v3h-1zM385,374h1v3h-1zM386,374h1v2h-1zM387,374h1v2h-1zM388,374h1v2h-1zM389,374h1v2h-1zM390,373h1v3h-1zM391,373h1v3h-1zM392,372h1v3h-1zM393,372h1v3h-1zM394,372h1v4h-1zM395,373h1v3h-1zM396,374h1v3h-1zM397,375h1v3h-1zM398,375h1v3h-1zM399,375h1v2h-1zM400,375h1v2h-1zM401,375h1v2h-1zM402,375h1v2h-1zM403,375h1v3h-1zM404,375h1v4h-1zM405,375h1v3h-1zM406,376h1v2h-1zM407,375h1v4h-1zM408,376h1v3h-1zM409,377h1v2h-1zM410,376h1v3h-1zM411,376h1v2h-1zM412,376h1v3h-1zM413,376h1v3h-1zM414,376h1v2h-1zM415,376h1v2h-1zM416,375h1v4h-1zM417,375h1v3h-1zM418,374h1v3h-1zM419,374h1v3h-1zM420,375h1v2h-1zM421,373h1v4h-1zM422,373h1v3h-1zM423,372h1v3h-1zM424,371h1v3h-1zM425,371h1v3h-1zM426,370h1v3h-1zM427,369h1v3h-1zM428,369h1v3h-1zM429,369h1v3h-1zM430,369h1v3h-1zM431,368h1v3h-1zM432,367h1v4h-1zM433,367h1v2h-1zM434,367h1v2h-1zM435,366h1v2h-1zM436,365h1v3h-1zM437,364h1v3h-1zM438,364h1v2h-1zM439,364h1v3h-1zM440,363h1v4h-1zM441,363h1v3h-1zM442,363h1v2h-1zM443,361h1v4h-1zM444,361h1v2h-1zM445,360h1v3h-1zM446,359h1v3h-1zM447,359h1v2h-1zM448,359h1v2h-1zM449,358h1v3h-1zM450,358h1v2h-1zM451,357h1v3h-1zM452,357h1v3h-1zM453,357h1v3h-1zM454,357h1v4h-1zM455,357h1v4h-1zM456,357h1v2h-1zM457,358h1v2h-1zM458,359h1v2h-1zM459,359h1v2h-1zM460,359h1v3h-1zM461,360h1v3h-1zM462,359h1v4h-1zM463,357h1v5h-1zM464,357h1v5h-1zM465,359h1v3h-1zM466,361h1v2h-1zM467,361h1v2h-1zM468,361h1v2h-1zM469,362h1v2h-1zM470,361h1v4h-1zM471,362h1v4h-1zM472,364h1v2h-1zM473,364h1v3h-1zM474,364h1v3h-1zM475,365h1v3h-1zM476,366h1v3h-1zM477,367h1v2h-1zM478,366h1v3h-1zM479,366h1v4h-1zM480,367h1v2h-1zM481,365h1v3h-1zM482,365h1v3h-1zM483,365h1v4h-1zM484,366h1v3h-1zM485,366h1v2h-1zM486,366h1v3h-1zM487,365h1v4h-1zM488,364h1v4h-1zM489,364h1v3h-1zM490,363h1v3h-1zM491,363h1v3h-1zM492,363h1v4h-1zM493,362h1v4h-1zM494,361h1v3h-1zM495,360h1v3h-1zM496,359h1v3h-1zM497,358h1v4h-1zM498,358h1v4h-1zM499,359h1v2h-1zM500,358h1v3h-1zM501,358h1v3h-1zM502,357h1v3h-1zM503,358h1v3h-1zM504,358h1v3h-1zM505,358h1v3h-1zM506,359h1v2h-1zM507,358h1v3h-1zM508,359h1v3h-1zM509,359h1v3h-1zM510,359h1v3h-1zM511,359h1v3h-1zM512,359h1v3h-1zM513,358h1v4h-1zM514,359h1v3h-1zM515,359h1v3h-1zM516,358h1v4h-1zM517,359h1v3h-1zM518,360h1v2h-1zM519,359h1v3h-1zM520,359h1v2h-1zM521,359h1v2h-1zM522,358h1v2h-1zM523,358h1v2h-1zM524,358h1v2h-1zM525,358h1v2h-1zM526,357h1v3h-1zM527,356h1v4h-1zM528,356h1v4h-1zM529,356h1v3h-1zM530,355h1v4h-1zM531,354h1v4h-1zM532,355h1v3h-1zM533,354h1v4h-1zM534,353h1v4h-1zM535,354h1v2h-1zM536,354h1v3h-1zM537,354h1v4h-1zM538,354h1v4h-1zM539,354h1v4h-1zM540,354h1v3h-1zM541,354h1v3h-1zM542,355h1v2h-1zM543,356h1v2h-1zM544,355h1v3h-1zM545,354h1v4h-1zM546,354h1v4h-1zM547,355h1v3h-1zM548,356h1v2h-1zM549,356h1v3h-1zM550,357h1v3h-1zM551,357h1v3h-1zM552,356h1v3h-1zM553,356h1v4h-1zM554,357h1v3h-1zM555,357h1v2h-1zM556,357h1v2h-1zM557,356h1v3h-1zM558,356h1v3h-1zM559,356h1v3h-1zM560,356h1v2h-1zM561,355h1v3h-1zM562,355h1v2h-1zM563,355h1v3h-1zM564,355h1v2h-1zM565,354h1v3h-1zM566,354h1v3h-1zM567,354h1v2h-1zM568,354h1v2h-1zM569,354h1v2h-1zM570,353h1v3h-1zM571,352h1v4h-1zM572,353h1v3h-1zM573,352h1v3h-1zM574,352h1v3h-1zM575,351h1v4h-1zM576,352h1v2h-1zM577,352h1v3h-1zM578,352h1v3h-1zM579,351h1v3h-1zM580,350h1v4h-1zM581,351h1v3h-1zM582,351h1v2h-1zM583,351h1v2h-1zM584,350h1v3h-1zM585,350h1v3h-1zM586,349h1v4h-1zM587,349h1v3h-1zM588,350h1v2h-1zM589,350h1v2h-1zM590,350h1v2h-1zM591,349h1v3h-1zM592,347h1v4h-1zM593,347h1v3h-1zM594,346h1v3h-1zM595,346h1v3h-1zM596,345h1v3h-1zM597,345h1v4h-1zM598,345h1v4h-1zM599,345h1v3h-1zM600,345h1v3h-1zM601,344h1v3h-1zM602,344h1v3h-1zM603,345h1v2h-1zM604,344h1v3h-1zM605,344h1v3h-1zM606,344h1v3h-1zM607,344h1v3h-1zM608,344h1v3h-1zM609,344h1v2h-1zM610,344h1v2h-1zM611,343h1v3h-1zM612,343h1v3h-1zM613,343h1v3h-1zM614,343h1v2h-1zM615,342h1v3h-1zM616,342h1v3h-1zM617,342h1v3h-1zM618,341h1v4h-1zM619,341h1v3h-1zM620,341h1v3h-1zM621,341h1v4h-1zM622,341h1v3h-1zM623,340h1v3h-1zM624,340h1v3h-1zM625,340h1v2h-1zM626,339h1v3h-1zM627,339h1v3h-1zM628,339h1v3h-1zM629,339h1v2h-1zM630,338h1v3h-1zM631,338h1v4h-1zM632,337h1v5h-1zM633,337h1v4h-1zM634,337h1v4h-1zM635,337h1v5h-1zM636,337h1v4h-1zM637,337h1v4h-1zM638,338h1v3h-1zM639,338h1v2h-1zM640,338h1v2h-1zM641,338h1v4h-1zM642,338h1v4h-1zM643,338h1v3h-1zM644,339h1v2h-1zM645,338h1v4h-1zM646,338h1v3h-1zM647,338h1v2h-1zM648,337h1v3h-1zM649,337h1v3h-1zM650,337h1v2h-1zM651,336h1v3h-1zM652,337h1v3h-1zM653,338h1v2h-1zM654,337h1v3h-1zM655,337h1v3h-1zM656,338h1v2h-1zM657,337h1v3h-1zM658,338h1v3h-1zM659,337h1v4h-1zM660,337h1v2h-1zM661,337h1v3h-1zM662,337h1v4h-1zM663,338h1v3h-1zM664,338h1v3h-1zM665,339h1v2h-1zM666,338h1v4h-1zM667,338h1v4h-1zM668,339h1v3h-1zM669,339h1v2h-1zM670,339h1v2h-1zM671,339h1v3h-1zM672,338h1v4h-1zM673,339h1v4h-1zM674,340h1v3h-1zM675,340h1v4h-1zM676,341h1v4h-1zM677,341h1v3h-1zM678,341h1v4h-1zM679,341h1v3h-1zM680,342h1v2h-1zM681,342h1v3h-1zM682,343h1v2h-1zM683,342h1v3h-1zM684,343h1v2h-1zM685,343h1v2h-1zM686,343h1v3h-1zM687,343h1v3h-1zM688,344h1v2h-1zM689,344h1v3h-1zM690,345h1v2h-1zM691,345h1v2h-1zM692,345h1v3h-1zM693,346h1v2h-1zM694,347h1v2h-1zM695,347h1v3h-1zM696,347h1v4h-1zM697,348h1v3h-1zM698,349h1v3h-1zM699,350h1v2h-1zM700,350h1v2h-1zM701,350h1v4h-1zM702,351h1v3h-1zM703,352h1v2h-1zM704,351h1v3h-1zM705,352h1v3h-1zM706,353h1v2h-1zM707,353h1v2h-1zM708,354h1v2h-1zM709,354h1v3h-1zM710,354h1v3h-1zM711,355h1v2h-1zM712,355h1v4h-1zM713,356h1v3h-1zM714,356h1v3h-1zM715,357h1v3h-1zM716,357h1v2h-1zM717,357h1v3h-1zM718,358h1v3h-1zM719,359h1v2h-1zM720,359h1v2h-1zM721,360h1v2h-1zM722,360h1v3h-1zM723,361h1v3h-1zM724,362h1v2h-1zM725,362h1v2h-1zM726,362h1v3h-1zM727,363h1v2h-1zM728,363h1v3h-1zM729,364h1v2h-1zM730,364h1v2h-1zM731,364h1v5h-1zM732,365h1v5h-1zM733,366h1v3h-1zM734,366h1v3h-1zM735,367h1v2h-1z" fill="#008000"/>
<path d="M50,430h1v2h-1zM51,430h1v2h-1zM52,430h1v3h-1zM53,431h1v2h-1zM54,431h1v2h-1zM55,431h1v3h-1zM56,432h1v2h-1zM57,432h1v2h-1zM58,432h1v2h-1zM59,432h1v3h-1zM60,432h1v3h-1zM61,432h1v4h-1zM62,433h1v3h-1zM63,433h1v3h-1zM64,433h1v3h-1zM65,434h1v3h-1zM66,434h1v4h-1zM67,434h1v3h-1zM68,435h1v2h-1zM69,435h1v3h-1zM70,434h1v3h-1zM71,435h1v3h-1zM72,435h1v3h-1zM73,435h1v3h-1zM74,435h1v2h-1zM75,435h1v3h-1zM76,435h1v3h-1zM77,435h1v4h-1zM78,436h1v2h-1zM79,436h1v3h-1zM80,436h1v3h-1zM81,436h1v3h-1zM82,436h1v3h-1zM83,437h1v2h-1zM84,437h1v2h-1zM85,437h1v2h-1zM86,437h1v3h-1zM87,437h1v2h-1zM88,437h1v2h-1zM89,437h1v3h-1zM90,438h1v2h-1zM91,437h1v3h-1zM92,437h1v3h-1zM93,438h1v2h-1zM94,438h1v2h-1zM95,437h1v3h-1zM96,437h1v3h-1zM97,437h1v3h-1zM98,437h1v3h-1zM99,438h1v3h-1zM100,438h1v2h-1zM101,438h1v2h-1zM102,437h1v2h-1zM103,437h1v3h-1zM104,438h1v3h-1zM105,438h1v2h-1zM106,437h1v3h-1zM107,438h1v2h-1zM108,437h1v2h-1zM109,437h1v2h-1zM110,436h1v3h-1zM111,436h1v3h-1zM112,435h1v3h-1zM113,435h1v3h-1zM114,435h1v2h-1zM115,434h1v3h-1zM116,433h1v3h-1zM117,434h1v2h-1zM118,433h1v3h-1zM119,433h1v2h-1zM120,432h1v3h-1zM121,432h1v2h-1zM122,431h1v3h-1zM123,431h1v2h-1zM124,430h1v3h-1zM125,429h1v4h-1zM126,428h1v3h-1zM127,427h1v3h-1zM128,426h1v3h-1zM129,425h1v3h-1zM130,424h1v3h-1zM131,424h1v3h-1zM132,422h1v4h-1zM133,421h1v4h-1zM134,419h1v4h-1zM135,417h1v5h-1zM136,416h1v4h-1zM137,414h1v5h-1zM138,412h1v5h-1zM139,411h1v3h-1zM140,409h1v4h-1zM141,408h1v4h-1zM142,407h1v3h-1zM143,406h1v3h-1zM144,405h1v3h-1zM145,404h1v3h-1zM146,402h1v3h-1zM147,401h1v3h-1zM148,400h1v3h-1zM149,399h1v3h-1zM150,398h1v3h-1zM151,397h1v3h-1zM152,396h1v3h-1zM153,395h1v4h-1zM154,394h1v3h-1zM155,393h1v3h-1zM156,392h1v3h-1zM157,391h1v3h-1zM158,390h1v3h-1zM159,390h1v3h-1zM160,388h1v4h-1zM161,387h1v3h-1zM162,386h1v3h-1zM163,386h1v2h-1zM164,386h1v2h-1zM165,385h1v3h-1zM166,384h1v3h-1zM167,383h1v3h-1zM168,384h1v2h-1zM169,384h1v2h-1zM170,383h1v2h-1zM171,383h1v2h-1zM172,382h1v3h-1zM173,382h1v2h-1zM174,381h1v3h-1zM175,380h1v3h-1zM176,380h1v3h-1zM177,381h1v2h-1zM178,380h1v3h-1zM179,379h1v3h-1zM180,380h1v2h-1zM181,379h1v3h-1zM182,379h1v2h-1zM183,378h1v3h-1zM184,378h1v4h-1zM185,377h1v4h-1zM186,378h1v3h-1zM187,378h1v2h-1zM188,377h1v3h-1zM189,377h1v2h-1zM190,377h1v2h-1zM191,377h1v3h-1zM192,377h1v3h-1zM193,377h1v2h-1zM194,376h1v3h-1zM195,377h1v3h-1zM196,376h1v3h-1zM197,377h1v3h-1zM198,377h1v2h-1zM199,376h1v4h-1zM200,375h1v5h-1zM201,375h1v3h-1zM202,376h1v3h-1zM203,375h1v4h-1zM204,376h1v3h-1zM205,376h1v3h-1zM206,376h1v3h-1zM207,376h1v4h-1zM208,376h1v4h-1zM209,376h1v3h-1zM210,376h1v3h-1zM211,376h1v3h-1zM212,376h1v3h-1zM213,377h1v5h-1zM214,378h1v4h-1zM215,379h1v3h-1zM216,380h1v2h-1zM217,381h1v2h-1zM218,380h1v3h-1zM219,381h1v2h-1zM220,381h1v3h-1zM221,381h1v3h-1zM222,382h1v3h-1zM223,382h1v3h-1zM224,382h1v2h-1zM225,382h1v3h-1zM226,382h1v3h-1zM227,382h1v3h-1zM228,383h1v2h-1zM229,383h1v4h-1zM230,384h1v3h-1zM231,384h1v2h-1zM232,384h1v3h-1zM233,384h1v3h-1zM234,384h1v2h-1zM235,384h1v2h-1zM236,384h1v2h-1zM237,384h1v3h-1zM238,385h1v2h-1zM239,385h1v2h-1zM240,384h1v3h-1zM241,384h1v3h-1zM242,385h1v2h-1zM243,384h1v3h-1zM244,384h1v4h-1zM245,384h1v4h-1zM246,385h1v3h-1zM247,385h1v3h-1zM248,385h1v3h-1zM249,384h1v3h-1zM250,385h1v3h-1zM251,386h1v3h-1zM252,386h1v2h-1zM253,387h1v2h-1zM254,386h1v3h-1zM255,386h1v4h-1zM256,387h1v3h-1zM257,387h1v3h-1zM258,387h1v3h-1zM259,387h1v3h-1zM260,387h1v3h-1zM261,388h1v2h-1zM262,388h1v2h-1zM263,388h1v2h-1zM264,388h1v2h-1zM265,388h1v3h-1zM266,388h1v3h-1zM267,388h1v2h-1zM268,388h1v3h-1zM269,389h1v3h-1zM270,389h1v3h-1zM271,390h1v2h-1zM272,390h1v2h-1zM273,390h1v3h-1zM274,390h1v3h-1zM275,390h1v3h-1zM276,391h1v2h-1zM277,391h1v3h-1zM278,391h1v3h-1zM279,391h1v3h-1zM280,391h1v3h-1zM281,392h1v3h-1zM282,391h1v4h-1zM283,391h1v4h-1zM284,391h1v4h-1zM285,391h1v3h-1zM286,391h1v4h-1zM287,393h1v3h-1zM288,394h1v2h-1zM289,393h1v3h-1zM290,393h1v3h-1zM291,393h1v3h-1zM292,394h1v3h-1zM293,394h1v2h-1zM294,393h1v3h-1zM295,393h1v3h-1zM296,393h1v4h-1zM297,394h1v3h-1zM298,394h1v3h-1zM299,394h1v4h-1zM300,394h1v4h-1zM301,395h1v4h-1zM302,395h1v3h-1zM303,394h1v3h-1zM304,395h1v3h-1zM305,395h1v3h-1zM306,394h1v4h-1zM307,394h1v4h-1zM308,394h1v4h-1zM309,395h1v3h-1zM310,395h1v3h-1zM311,395h1v3h-1zM312,395h1v3h-1zM313,395h1v3h-1zM314,394h1v4h-1zM315,395h1v3h-1zM316,396h1v2h-1zM317,395h1v3h-1zM318,395h1v2h-1zM319,395h1v3h-1zM320,396h1v2h-1zM321,395h1v3h-1zM322,395h1v2h-1zM323,395h1v2h-1zM324,394h1v3h-1zM325,394h1v2h-1zM326,394h1v3h-1zM327,395h1v2h-1zM328,394h1v3h-1zM329,394h1v2h-1zM330,394h1v3h-1zM331,395h1v2h-1zM332,394h1v2h-1zM333,394h1v2h-1zM334,394h1v2h-1zM335,394h1v2h-1zM336,394h1v3h-1zM337,393h1v3h-1zM338,392h1v3h-1zM339,392h1v2h-1zM340,392h1v2h-1zM341,391h1v3h-1zM342,391h1v2h-1zM343,391h1v2h-1zM344,391h1v2h-1zM345,391h1v3h-1zM346,390h1v3h-1zM347,390h1v2h-1zM348,389h1v3h-1zM349,390h1v3h-1zM350,390h1v3h-1zM351,389h1v3h-1zM352,389h1v2h-1zM353,388h1v3h-1zM354,388h1v3h-1zM355,388h1v3h-1zM356,388h1v3h-1zM357,388h1v3h-1zM358,388h1v3h-1zM359,388h1v3h-1zM360,388h1v3h-1zM361,388h1v2h-1zM362,388h1v2h-1zM363,388h1v2h-1zM364,388h1v3h-1zM365,387h1v4h-1zM366,386h1v4h-1zM367,386h1v3h-1zM368,386h1v3h-1zM369,386h1v3h-1zM370,386h1v2h-1zM371,386h1v2h-1zM372,386h1v2h-1zM373,386h1v3h-1zM374,386h1v2h-1zM375,385h1v3h-1zM376,384h1v3h-1zM377,384h1v2h-1zM378,384h1v2h-1zM379,384h1v3h-1zM380,383h1v4h-1zM381,382h1v3h-1zM382,381h1v3h-1zM383,382h1v2h-1zM384,380h1v4h-1zM385,380h1v4h-1zM386,380h1v4h-1zM387,380h1v3h-1zM388,380h1v3h-1zM389,380h1v3h-1zM390,381h1v2h-1zM391,381h1v2h-1zM392,381h1v2h-1zM393,381h1v2h-1zM394,381h1v3h-1zM395,380h1v3h-1zM396,380h1v2h-1zM397,380h1v2h-1zM398,381h1v2h-1zM399,381h1v2h-1zM400,381h1v3h-1zM401,382h1v2h-1zM402,382h1v2h-1zM403,382h1v3h-1zM404,382h1v4h-1zM405,383h1v2h-1zM406,383h1v3h-1zM407,384h1v2h-1zM408,384h1v2h-1zM409,384h1v2h-1zM410,383h1v3h-1zM411,384h1v2h-1zM412,384h1v2h-1zM413,383h1v4h-1zM414,383h1v4h-1zM415,383h1v3h-1zM416,384h1v2h-1zM417,381h1v5h-1zM418,381h1v4h-1zM419,382h1v2h-1zM420,382h1v2h-1zM421,381h1v3h-1zM422,381h1v2h-1zM423,380h1v3h-1zM424,379h1v3h-1zM425,379h1v2h-1zM426,378h1v3h-1zM427,378h1v2h-1zM428,377h1v3h-1zM429,376h1v3h-1zM430,376h1v3h-1zM431,375h1v4h-1zM432,375h1v2h-1zM433,374h1v4h-1zM434,373h1v5h-1zM435,373h1v4h-1zM436,373h1v3h-1zM437,372h1v3h-1zM438,372h1v2h-1zM439,371h1v3h-1zM440,370h1v3h-1zM441,369h1v3h-1zM442,369h1v4h-1zM443,368h1v4h-1zM444,367h1v3h-1zM445,367h1v2h-1zM446,366h1v3h-1zM447,365h1v3h-1zM448,365h1v2h-1zM449,365h1v3h-1zM450,365h1v3h-1zM451,365h1v3h-1zM452,365h1v3h-1zM453,364h1v3h-1zM454,364h1v3h-1zM455,365h1v2h-1zM456,365h1v3h-1zM457,365h1v3h-1zM458,364h1v3h-1zM459,364h1v4h-1zM460,365h1v4h-1zM461,366h1v3h-1zM462,366h1v3h-1zM463,367h1v2h-1zM464,367h1v3h-1zM465,367h1v3h-1zM466,368h1v4h-1zM467,369h1v4h-1zM468,369h1v3h-1zM469,369h1v2h-1zM470,370h1v2h-1zM471,370h1v3h-1zM472,371h1v3h-1zM473,371h1v3h-1zM474,371h1v3h-1zM475,372h1v4h-1zM476,373h1v3h-1zM477,372h1v4h-1zM478,372h1v3h-1zM479,373h1v3h-1zM480,374h1v2h-1zM481,373h1v2h-1zM482,373h1v2h-1zM483,373h1v3h-1zM484,373h1v3h-1zM485,371h1v4h-1zM486,372h1v2h-1zM487,371h1v3h-1zM488,372h1v3h-1zM489,371h1v3h-1zM490,371h1v3h-1zM491,369h1v5h-1zM492,369h1v3h-1zM493,368h1v2h-1zM494,367h1v3h-1zM495,367h1v2h-1zM496,367h1v2h-1zM497,367h1v2h-1zM498,366h1v3h-1zM499,367h1v3h-1zM500,366h1v3h-1zM501,366h1v3h-1zM502,366h1v3h-1zM503,366h1v3h-1zM504,365h1v3h-1zM505,364h1v3h-1zM506,365h1v3h-1zM507,365h1v3h-1zM508,365h1v2h-1zM509,365h1v2h-1zM510,365h1v3h-1zM511,366h1v2h-1zM512,366h1v2h-1zM513,366h1v3h-1zM514,366h1v3h-1zM515,367h1v2h-1zM516,367h1v2h-1zM517,367h1v2h-1zM518,367h1v2h-1zM519,366h1v3h-1zM520,366h1v2h-1zM521,365h1v3h-1zM522,365h1v2h-1zM523,365h1v3h-1zM524,364h1v3h-1zM525,364h1v3h-1zM526,363h1v4h-1zM527,363h1v3h-1zM528,363h1v2h-1zM529,362h1v3h-1zM530,361h1v3h-1zM531,360h1v3h-1zM532,360h1v3h-1zM533,360h1v3h-1zM534,359h1v4h-1zM535,359h1v4h-1zM536,359h1v4h-1zM537,361h1v2h-1zM538,361h1v2h-1zM539,361h1v2h-1zM540,361h1v3h-1zM541,361h1v3h-1zM542,360h1v3h-1zM543,360h1v3h-1zM544,361h1v2h-1zM545,361h1v2h-1zM546,361h1v2h-1zM547,361h1v3h-1zM548,362h1v2h-1zM549,361h1v3h-1zM550,362h1v2h-1zM551,363h1v3h-1zM552,363h1v2h-1zM553,362h1v3h-1zM554,361h1v4h-1zM555,361h1v3h-1zM556,361h1v3h-1zM557,361h1v4h-1zM558,362h1v4h-1zM559,361h1v4h-1zM560,362h1v3h-1zM561,361h1v4h-1zM562,361h1v3h-1zM563,361h1v2h-1zM564,361h1v2h-1zM565,360h1v3h-1zM566,360h1v3h-1zM567,359h1v4h-1zM568,359h1v3h-1zM569,359h1v3h-1zM570,358h1v3h-1zM571,358h1v2h-1zM572,358h1v3h-1zM573,358h1v3h-1zM574,358h1v3h-1zM575,358h1v2h-1zM576,357h1v2h-1zM577,357h1v2h-1zM578,356h1v3h-1zM579,356h1v3h-1zM580,356h1v3h-1zM581,355h1v4h-1zM582,356h1v3h-1zM583,355h1v4h-1zM584,354h1v4h-1zM585,355h1v2h-1zM586,355h1v2h-1zM587,354h1v3h-1zM588,354h1v2h-1zM589,354h1v2h-1zM590,353h1v3h-1zM591,353h1v2h-1zM592,352h1v3h-1zM593,352h1v3h-1zM594,351h1v3h-1zM595,351h1v2h-1zM596,351h1v3h-1zM597,350h1v4h-1zM598,349h1v4h-1zM599,349h1v3h-1zM600,350h1v3h-1zM601,349h1v3h-1zM602,348h1v3h-1zM603,348h1v4h-1zM604,348h1v3h-1zM605,348h1v3h-1zM606,348h1v3h-1zM607,349h1v3h-1zM608,347h1v4h-1zM609,347h1v3h-1zM610,347h1v3h-1zM611,347h1v3h-1zM612,346h1v4h-1zM613,346h1v3h-1zM614,346h1v3h-1zM615,346h1v3h-1zM616,345h1v4h-1zM617,345h1v3h-1zM618,344h1v4h-1zM619,344h1v3h-1zM620,344h1v3h-1zM621,345h1v2h-1zM622,345h1v2h-1zM623,343h1v4h-1zM624,342h1v4h-1zM625,343h1v3h-1zM626,344h1v2h-1zM627,344h1v3h-1zM628,344h1v3h-1zM629,342h1v4h-1zM630,342h1v3h-1zM631,341h1v3h-1zM632,341h1v3h-1zM633,341h1v3h-1zM634,341h1v2h-1zM635,341h1v2h-1zM636,341h1v3h-1zM637,341h1v3h-1zM638,341h1v3h-1zM639,341h1v3h-1zM640,341h1v3h-1zM641,340h1v5h-1zM642,340h1v5h-1zM643,340h1v3h-1zM644,341h1v3h-1zM645,341h1v3h-1zM646,341h1v3h-1zM647,341h1v3h-1zM648,340h1v3h-1zM649,339h1v4h-1zM650,339h1v4h-1zM651,340h1v4h-1zM652,340h1v3h-1zM653,340h1v4h-1zM654,341h1v3h-1zM655,340h1v3h-1zM656,340h1v3h-1zM657,340h1v3h-1zM658,339h1v4h-1zM659,340h1v3h-1zM660,341h1v3h-1zM661,340h1v3h-1zM662,340h1v3h-1zM663,340h1v3h-1zM664,341h1v2h-1zM665,341h1v2h-1zM666,341h1v3h-1zM667,342h1v2h-1zM668,342h1v2h-1zM669,341h1v3h-1zM670,341h1v4h-1zM671,342h1v3h-1zM672,343h1v2h-1zM673,342h1v3h-1zM674,342h1v3h-1zM675,342h1v3h-1zM676,342h1v4h-1zM677,344h1v4h-1zM678,345h1v2h-1zM679,344h1v3h-1zM680,345h1v2h-1zM681,345h1v2h-1zM682,345h1v3h-1zM683,345h1v5h-1zM684,345h1v4h-1zM685,345h1v5h-1zM686,346h1v5h-1zM687,346h1v6h-1zM688,347h1v5h-1zM689,348h1v3h-1zM690,348h1v2h-1zM691,348h1v2h-1zM692,348h1v2h-1zM693,348h1v4h-1zM694,349h1v4h-1zM695,350h1v3h-1zM696,351h1v2h-1zM697,351h1v3h-1zM698,352h1v3h-1zM699,353h1v2h-1zM700,353h1v3h-1zM701,354h1v2h-1zM702,354h1v3h-1zM703,354h1v4h-1zM704,356h1v3h-1zM705,357h1v2h-1zM706,357h1v3h-1zM707,358h1v2h-1zM708,358h1v2h-1zM709,358h1v2h-1zM710,358h1v3h-1zM711,359h1v3h-1zM712,359h1v3h-1zM713,359h1v3h-1zM714,360h1v3h-1zM715,361h1v3h-1zM716,361h1v3h-1zM717,360h1v4h-1zM718,361h1v4h-1zM719,362h1v3h-1zM720,362h1v4h-1zM721,363h1v3h-1zM722,363h1v4h-1zM723,365h1v2h-1zM724,365h1v2h-1zM725,365h1v3h-1zM726,366h1v3h-1zM727,366h1v4h-1zM728,367h1v4h-1zM729,367h1v4h-1zM730,367h1v4h-1zM731,368h1v3h-1zM732,368h1v3h-1zM733,367h1v4h-1zM734,367h1v5h-1zM735,369h1v2h-1z" fill="#000080"/></g>
</g>
<g id="legend">
<rect x="1528.7" y="30.2" width="358.5" height="390.4" fill="#fff" stroke="#000" stroke-width="2.8"/><line x1="1548.4" y1="70.4" x2="1667.6" y2="70.4" stroke="#000000" stroke-width="4.8"/><text transform="translate(1678.20,88.00) scale(0.937,1)" font-size="54.6" text-anchor="start" letter-spacing="0.3" stroke="#000" stroke-width="0.7" >BMO</text><line x1="1548.4" y1="134.5" x2="1667.6" y2="134.5" stroke="#ff0000" stroke-width="4.8"/><text transform="translate(1676.20,151.60) scale(0.97,1)" font-size="54.6" text-anchor="start" letter-spacing="0.3" stroke="#000" stroke-width="0.7" >ZnO</text><line x1="1548.4" y1="197.5" x2="1667.6" y2="197.5" stroke="#0000ff" stroke-width="4.8"/><text transform="translate(1678.20,215.00) scale(0.945,1)" font-size="54.6" text-anchor="start" letter-spacing="0.3" stroke="#000" stroke-width="0.7" >0.1-BZO</text><line x1="1548.4" y1="261.2" x2="1667.6" y2="261.2" stroke="#ff00ff" stroke-width="4.8"/><text transform="translate(1678.20,278.70) scale(0.945,1)" font-size="54.6" text-anchor="start" letter-spacing="0.3" stroke="#000" stroke-width="0.7" >0.2-BZO</text><line x1="1548.4" y1="326.0" x2="1667.6" y2="326.0" stroke="#008000" stroke-width="4.8"/><text transform="translate(1678.20,342.50) scale(0.945,1)" font-size="54.6" text-anchor="start" letter-spacing="0.3" stroke="#000" stroke-width="0.7" >0.3-BZO</text><line x1="1548.4" y1="390.5" x2="1667.6" y2="390.5" stroke="#000080" stroke-width="4.8"/><text transform="translate(1678.20,406.20) scale(0.945,1)" font-size="54.6" text-anchor="start" letter-spacing="0.3" stroke="#000" stroke-width="0.7" >0.4-BZO</text>
<line x1="1887.1" y1="28.9" x2="1887.1" y2="440" stroke="#000" stroke-width="5.3"/>
</g>
<g id="labels">
<text transform="translate(126.85,1420.20) scale(0.9,1)" font-size="54.5" text-anchor="middle" letter-spacing="1.5" stroke="#000" stroke-width="0.7" >350</text><text transform="translate(565.45,1420.20) scale(0.9,1)" font-size="54.5" text-anchor="middle" letter-spacing="1.5" stroke="#000" stroke-width="0.7" >400</text><text transform="translate(1005.15,1420.20) scale(0.9,1)" font-size="54.5" text-anchor="middle" letter-spacing="1.5" stroke="#000" stroke-width="0.7" >450</text><text transform="translate(1447.50,1420.20) scale(0.9,1)" font-size="54.5" text-anchor="middle" letter-spacing="1.5" stroke="#000" stroke-width="0.7" >500</text><text transform="translate(1887.30,1420.20) scale(0.9,1)" font-size="54.5" text-anchor="middle" letter-spacing="1.5" stroke="#000" stroke-width="0.7" >550</text>
<text transform="translate(1010.40,1490.00) scale(0.9985,1)" font-size="76" text-anchor="middle" letter-spacing="0" stroke="#000" stroke-width="0.9" >Wavelength(nm)</text>
<text transform="translate(79,735.4) rotate(-90) scale(0.990,1)" font-size="76" text-anchor="middle" stroke="#000" stroke-width="0.9">Fluorescence intensity/a.u.</text>
</g>
</svg>
</body></html>
